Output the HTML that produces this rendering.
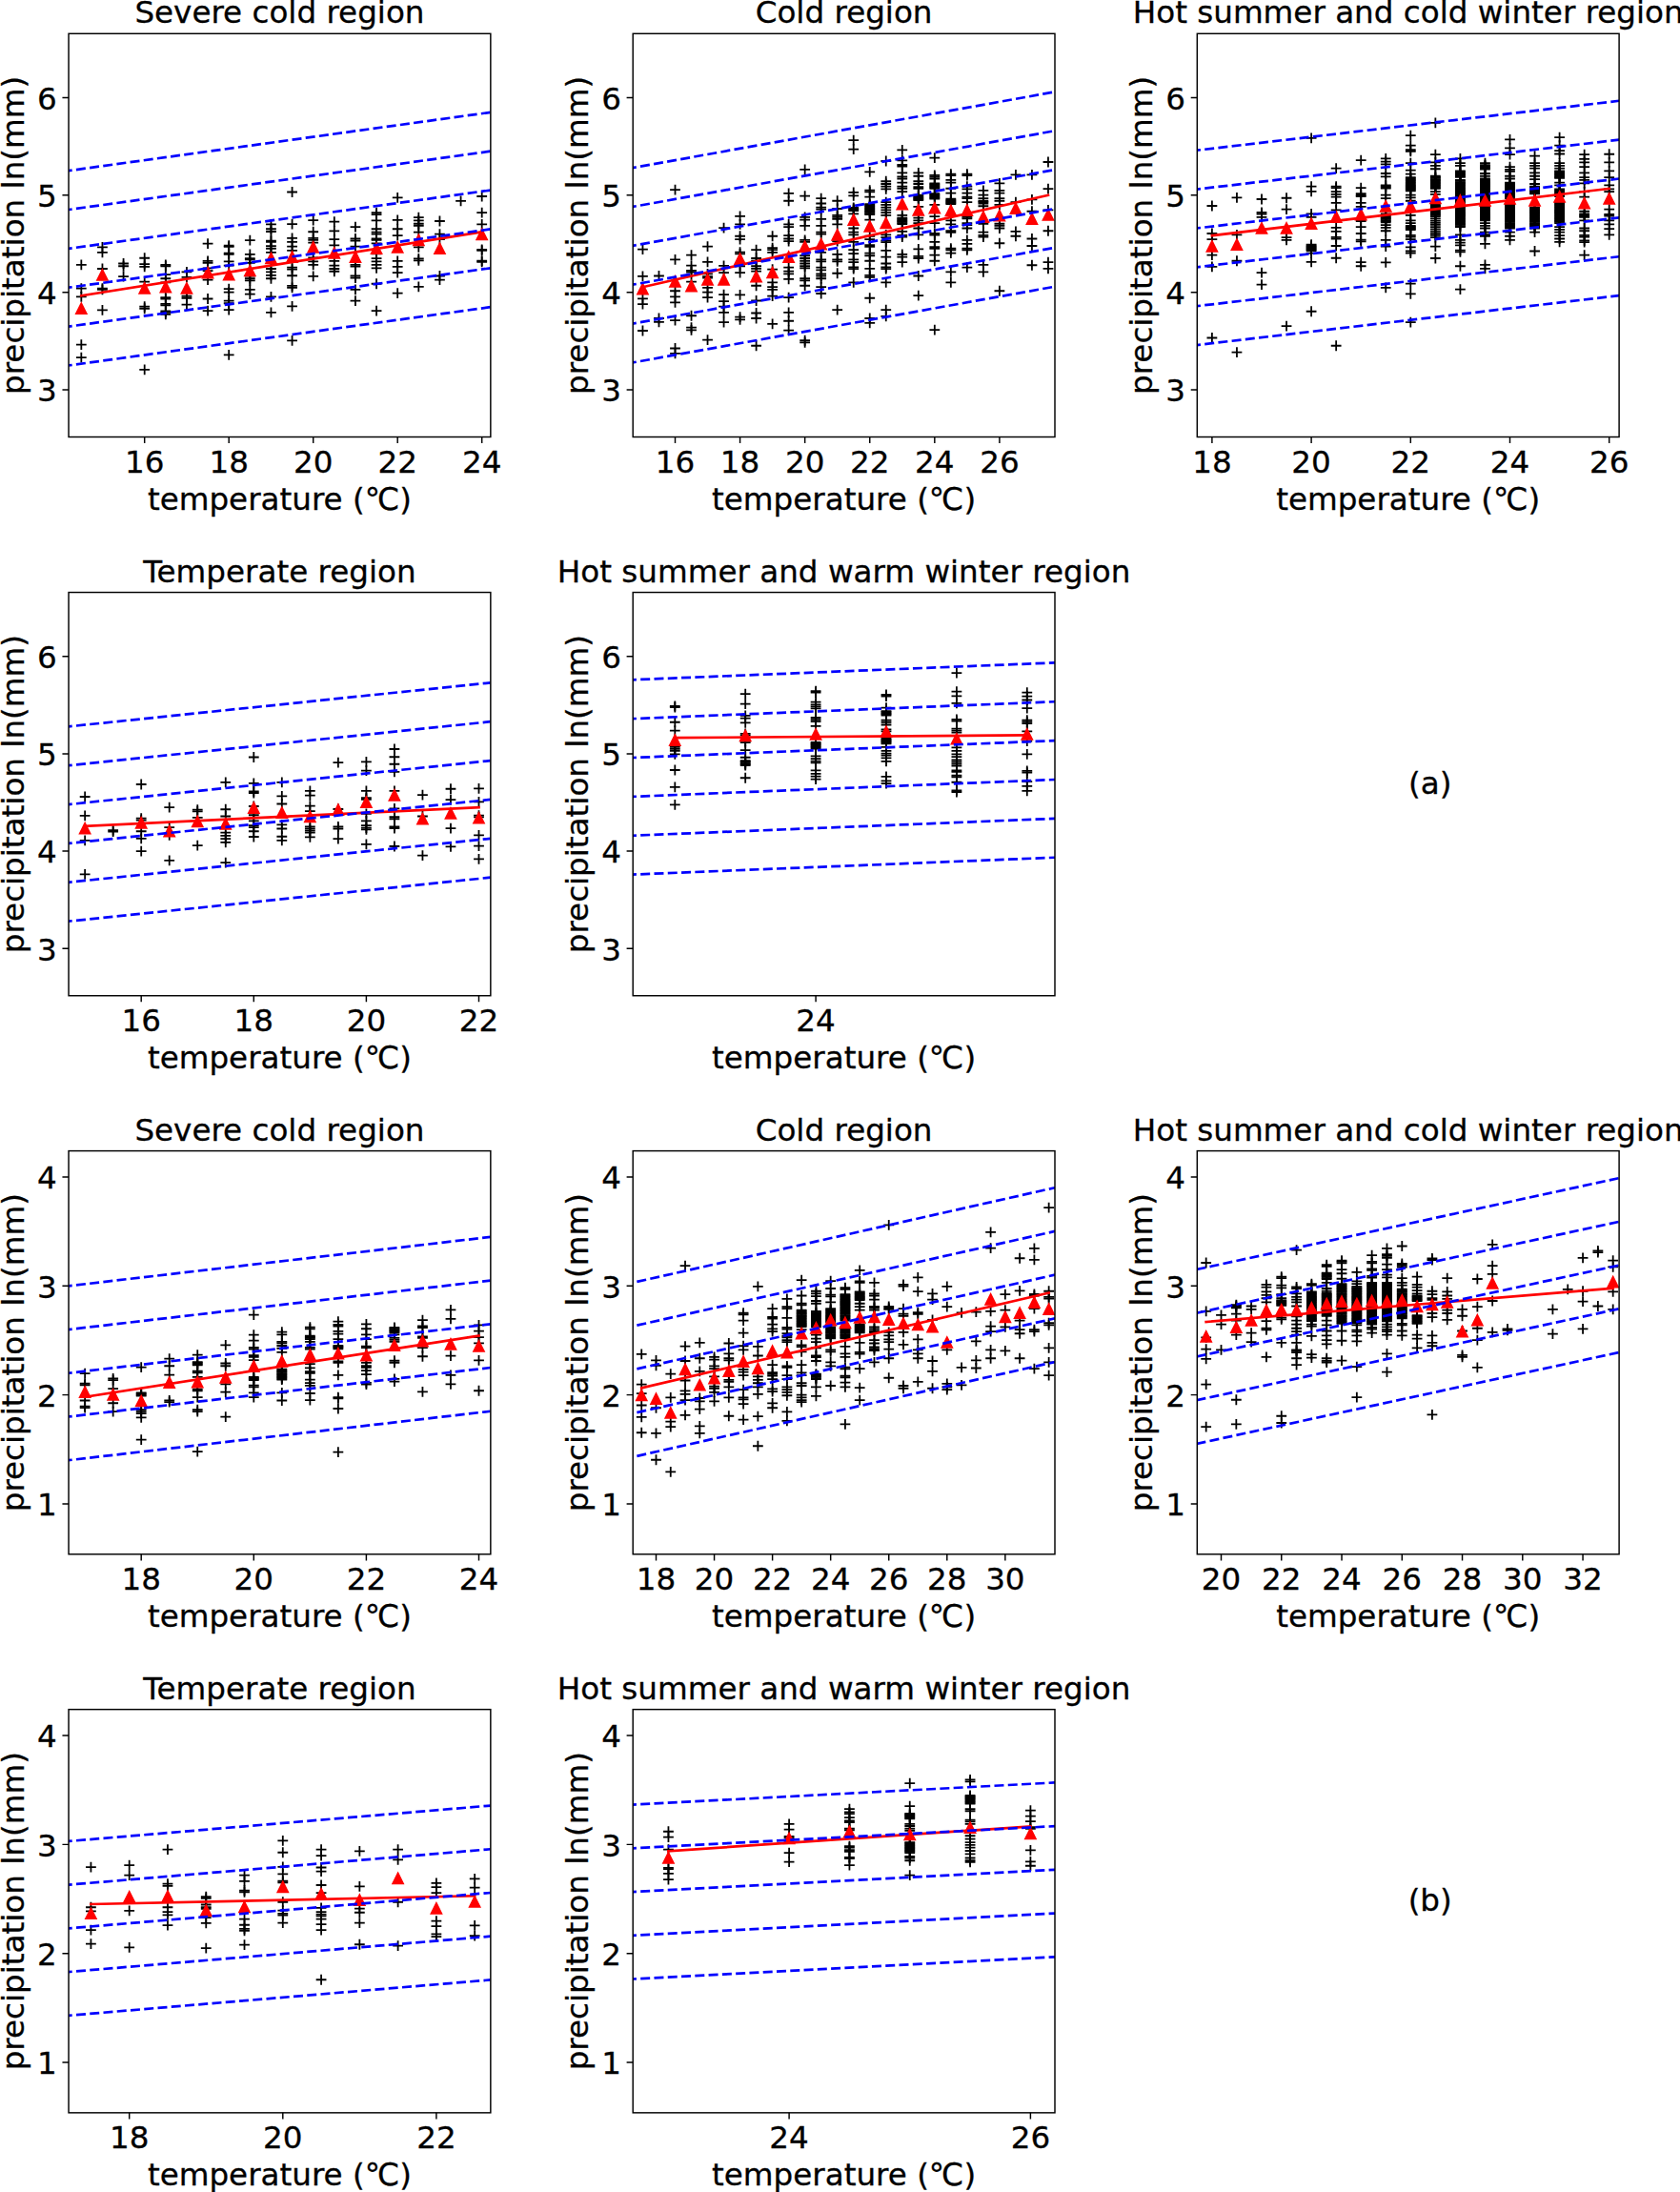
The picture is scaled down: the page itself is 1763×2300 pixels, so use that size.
<!DOCTYPE html>
<html lang="en"><head><meta charset="utf-8"><title>precipitation vs temperature</title>
<style>html,body{margin:0;padding:0;background:#fff}svg{display:block}text{font-family:"DejaVu Sans", "Liberation Sans", sans-serif;font-size:32.6px;fill:#000;stroke:#000;stroke-width:.3px}</style></head><body>
<svg width="1763" height="2300" viewBox="0 0 1763 2300">
<defs>
<path id="p" d="M-5.4 0H5.4M0 -5.4V5.4" stroke="#000" stroke-width="1.8" fill="none"/>
<path id="t" d="M0 -5.4L5.4 5.4H-5.4Z" fill="#f00" stroke="#f00" stroke-width="1.8" stroke-linejoin="miter"/>
<clipPath id="c0"><rect x="72.05" y="35.3" width="442.8" height="423.2"/></clipPath>
<clipPath id="c1"><rect x="664.2" y="35.3" width="442.8" height="423.2"/></clipPath>
<clipPath id="c2"><rect x="1256.3" y="35.3" width="442.8" height="423.2"/></clipPath>
<clipPath id="c3"><rect x="72.05" y="621.55" width="442.8" height="423.2"/></clipPath>
<clipPath id="c4"><rect x="664.2" y="621.55" width="442.8" height="423.2"/></clipPath>
<clipPath id="c5"><rect x="1256.3" y="621.55" width="442.8" height="423.2"/></clipPath>
<clipPath id="c6"><rect x="72.05" y="1207.6" width="442.8" height="423.2"/></clipPath>
<clipPath id="c7"><rect x="664.2" y="1207.6" width="442.8" height="423.2"/></clipPath>
<clipPath id="c8"><rect x="1256.3" y="1207.6" width="442.8" height="423.2"/></clipPath>
<clipPath id="c9"><rect x="72.05" y="1793.65" width="442.8" height="423.2"/></clipPath>
<clipPath id="c10"><rect x="664.2" y="1793.65" width="442.8" height="423.2"/></clipPath>
<clipPath id="c11"><rect x="1256.3" y="1793.65" width="442.8" height="423.2"/></clipPath>
</defs>
<rect width="1763" height="2300" fill="#fff"/>
<g>
<g clip-path="url(#c0)">
<use href="#p" x="85.32" y="277.89"/><use href="#p" x="85.32" y="302.53"/><use href="#p" x="85.32" y="311.43"/><use href="#p" x="85.32" y="361.67"/><use href="#p" x="85.32" y="375.09"/><use href="#p" x="107.45" y="259.4"/><use href="#p" x="107.45" y="264.88"/><use href="#p" x="107.45" y="281.99"/><use href="#p" x="107.45" y="302.53"/><use href="#p" x="107.45" y="303.9"/><use href="#p" x="107.45" y="325.39"/><use href="#p" x="129.57" y="276.52"/><use href="#p" x="129.57" y="279.26"/><use href="#p" x="129.57" y="290.21"/><use href="#p" x="151.7" y="270.77"/><use href="#p" x="151.7" y="277.2"/><use href="#p" x="151.7" y="279.94"/><use href="#p" x="151.7" y="295.68"/><use href="#p" x="151.7" y="321.7"/><use href="#p" x="151.7" y="323.75"/><use href="#p" x="151.7" y="387.82"/><use href="#p" x="173.82" y="277.89"/><use href="#p" x="173.82" y="279.26"/><use href="#p" x="173.82" y="288.15"/><use href="#p" x="173.82" y="292.26"/><use href="#p" x="173.82" y="296.37"/><use href="#p" x="173.82" y="312.11"/><use href="#p" x="173.82" y="313.48"/><use href="#p" x="173.82" y="318.96"/><use href="#p" x="173.82" y="320.33"/><use href="#p" x="173.82" y="326.49"/><use href="#p" x="173.82" y="327.86"/><use href="#p" x="173.82" y="329.91"/><use href="#p" x="195.95" y="285.42"/><use href="#p" x="195.95" y="290.89"/><use href="#p" x="195.95" y="310.74"/><use href="#p" x="195.95" y="312.8"/><use href="#p" x="195.95" y="319.64"/><use href="#p" x="218.07" y="255.71"/><use href="#p" x="218.07" y="273.78"/><use href="#p" x="218.07" y="275.83"/><use href="#p" x="218.07" y="281.31"/><use href="#p" x="218.07" y="284.05"/><use href="#p" x="218.07" y="293.63"/><use href="#p" x="218.07" y="313.48"/><use href="#p" x="218.07" y="326.21"/><use href="#p" x="240.2" y="257.76"/><use href="#p" x="240.2" y="258.86"/><use href="#p" x="240.2" y="265.57"/><use href="#p" x="240.2" y="266.93"/><use href="#p" x="240.2" y="274.46"/><use href="#p" x="240.2" y="278.57"/><use href="#p" x="240.2" y="303.21"/><use href="#p" x="240.2" y="306.64"/><use href="#p" x="240.2" y="315.54"/><use href="#p" x="240.2" y="318.27"/><use href="#p" x="240.2" y="325.12"/><use href="#p" x="240.2" y="372.35"/><use href="#p" x="262.32" y="252.15"/><use href="#p" x="262.32" y="266.93"/><use href="#p" x="262.32" y="271.04"/><use href="#p" x="262.32" y="272.41"/><use href="#p" x="262.32" y="275.83"/><use href="#p" x="262.32" y="289.52"/><use href="#p" x="262.32" y="292.26"/><use href="#p" x="262.32" y="294.32"/><use href="#p" x="262.32" y="303.9"/><use href="#p" x="262.32" y="308.69"/><use href="#p" x="284.45" y="235.45"/><use href="#p" x="284.45" y="240.24"/><use href="#p" x="284.45" y="242.98"/><use href="#p" x="284.45" y="252.56"/><use href="#p" x="284.45" y="253.93"/><use href="#p" x="284.45" y="258.04"/><use href="#p" x="284.45" y="260.77"/><use href="#p" x="284.45" y="264.88"/><use href="#p" x="284.45" y="281.99"/><use href="#p" x="284.45" y="285.42"/><use href="#p" x="284.45" y="288.84"/><use href="#p" x="284.45" y="292.26"/><use href="#p" x="284.45" y="311.43"/><use href="#p" x="284.45" y="327.86"/><use href="#p" x="306.57" y="201.49"/><use href="#p" x="306.57" y="235.04"/><use href="#p" x="306.57" y="249.82"/><use href="#p" x="306.57" y="253.93"/><use href="#p" x="306.57" y="258.72"/><use href="#p" x="306.57" y="262.83"/><use href="#p" x="306.57" y="280.62"/><use href="#p" x="306.57" y="282.68"/><use href="#p" x="306.57" y="289.25"/><use href="#p" x="306.57" y="299.79"/><use href="#p" x="306.57" y="301.85"/><use href="#p" x="306.57" y="321.29"/><use href="#p" x="306.57" y="357.29"/><use href="#p" x="328.7" y="231.07"/><use href="#p" x="328.7" y="243.25"/><use href="#p" x="328.7" y="249.82"/><use href="#p" x="328.7" y="251.88"/><use href="#p" x="328.7" y="254.61"/><use href="#p" x="328.7" y="270.36"/><use href="#p" x="328.7" y="274.46"/><use href="#p" x="328.7" y="277.89"/><use href="#p" x="328.7" y="289.8"/><use href="#p" x="350.82" y="232.71"/><use href="#p" x="350.82" y="242.29"/><use href="#p" x="350.82" y="251.19"/><use href="#p" x="350.82" y="257.35"/><use href="#p" x="350.82" y="273.78"/><use href="#p" x="350.82" y="278.57"/><use href="#p" x="350.82" y="281.99"/><use href="#p" x="350.82" y="284.73"/><use href="#p" x="372.95" y="238.18"/><use href="#p" x="372.95" y="250.51"/><use href="#p" x="372.95" y="252.56"/><use href="#p" x="372.95" y="258.72"/><use href="#p" x="372.95" y="277.89"/><use href="#p" x="372.95" y="279.67"/><use href="#p" x="372.95" y="289.52"/><use href="#p" x="372.95" y="291.58"/><use href="#p" x="372.95" y="303.9"/><use href="#p" x="372.95" y="315.54"/><use href="#p" x="395.07" y="223.12"/><use href="#p" x="395.07" y="225.18"/><use href="#p" x="395.07" y="231.34"/><use href="#p" x="395.07" y="240.24"/><use href="#p" x="395.07" y="243.66"/><use href="#p" x="395.07" y="245.71"/><use href="#p" x="395.07" y="250.51"/><use href="#p" x="395.07" y="251.88"/><use href="#p" x="395.07" y="255.3"/><use href="#p" x="395.07" y="266.25"/><use href="#p" x="395.07" y="271.04"/><use href="#p" x="395.07" y="274.46"/><use href="#p" x="395.07" y="277.89"/><use href="#p" x="395.07" y="281.31"/><use href="#p" x="395.07" y="297.74"/><use href="#p" x="395.07" y="326.21"/><use href="#p" x="417.2" y="207.38"/><use href="#p" x="417.2" y="230.93"/><use href="#p" x="417.2" y="240.24"/><use href="#p" x="417.2" y="247.08"/><use href="#p" x="417.2" y="273.78"/><use href="#p" x="417.2" y="279.94"/><use href="#p" x="417.2" y="286.1"/><use href="#p" x="417.2" y="307.6"/><use href="#p" x="439.32" y="228.19"/><use href="#p" x="439.32" y="231.34"/><use href="#p" x="439.32" y="234.76"/><use href="#p" x="439.32" y="236.82"/><use href="#p" x="439.32" y="243.66"/><use href="#p" x="439.32" y="259.4"/><use href="#p" x="439.32" y="271.45"/><use href="#p" x="439.32" y="273.37"/><use href="#p" x="439.32" y="300.89"/><use href="#p" x="461.45" y="232.02"/><use href="#p" x="461.45" y="245.71"/><use href="#p" x="461.45" y="251.19"/><use href="#p" x="461.45" y="289.52"/><use href="#p" x="461.45" y="293.63"/><use href="#p" x="483.57" y="210.8"/><use href="#p" x="505.7" y="206.01"/><use href="#p" x="505.7" y="223.12"/><use href="#p" x="505.7" y="235.45"/><use href="#p" x="505.7" y="261.87"/><use href="#p" x="505.7" y="262.96"/><use href="#p" x="505.7" y="273.64"/><use href="#p" x="505.7" y="274.74"/>
<use href="#t" x="85.32" y="323.75"/><use href="#t" x="107.45" y="288.43"/><use href="#t" x="151.7" y="302.53"/><use href="#t" x="173.82" y="301.16"/><use href="#t" x="195.95" y="302.53"/><use href="#t" x="218.07" y="286.1"/><use href="#t" x="240.2" y="288.15"/><use href="#t" x="262.32" y="284.05"/><use href="#t" x="284.45" y="271.04"/><use href="#t" x="306.57" y="269.67"/><use href="#t" x="328.7" y="259.4"/><use href="#t" x="350.82" y="265.57"/><use href="#t" x="372.95" y="269.67"/><use href="#t" x="395.07" y="260.77"/><use href="#t" x="417.2" y="259.4"/><use href="#t" x="439.32" y="251.88"/><use href="#t" x="461.45" y="260.77"/><use href="#t" x="505.7" y="245.99"/>
<path d="M85.32 310.21L505.7 243.39" stroke="#f00" stroke-width="2.7" fill="none" stroke-linecap="square"/>
<path d="M65.75 180L514.85 117.83M65.75 220.87L514.85 158.69M65.75 261.74L514.85 199.56M65.75 302.6L514.85 240.43M65.75 343.47L514.85 281.3M65.75 384.34L514.85 322.17" stroke="#00f" stroke-width="2.7" fill="none" stroke-dasharray="10 4.3"/>
</g>
<rect x="72.05" y="35.3" width="442.8" height="423.2" fill="none" stroke="#000" stroke-width="1.45"/>
<path d="M151.7 458.5v6.6M240.2 458.5v6.6M328.7 458.5v6.6M417.2 458.5v6.6M505.7 458.5v6.6M72.05 409.01h-6.6M72.05 306.84h-6.6M72.05 204.67h-6.6M72.05 102.5h-6.6" stroke="#000" stroke-width="1.45" fill="none"/>
<text x="151.7" y="495.6" text-anchor="middle">16</text>
<text x="240.2" y="495.6" text-anchor="middle">18</text>
<text x="328.7" y="495.6" text-anchor="middle">20</text>
<text x="417.2" y="495.6" text-anchor="middle">22</text>
<text x="505.7" y="495.6" text-anchor="middle">24</text>
<text x="59.75" y="421.41" text-anchor="end">3</text>
<text x="59.75" y="319.24" text-anchor="end">4</text>
<text x="59.75" y="217.07" text-anchor="end">5</text>
<text x="59.75" y="114.9" text-anchor="end">6</text>
<text x="293.45" y="24.3" text-anchor="middle">Severe cold region</text>
<text x="293.45" y="534.5" text-anchor="middle">temperature (℃)</text>
<text transform="translate(24.55 246.9) rotate(-90)" text-anchor="middle">precipitation ln(mm)</text>
</g>
<g>
<g clip-path="url(#c1)">
<use href="#p" x="674.46" y="261.7"/><use href="#p" x="674.46" y="289.9"/><use href="#p" x="674.46" y="313.45"/><use href="#p" x="674.46" y="319.2"/><use href="#p" x="674.46" y="346.99"/><use href="#p" x="691.48" y="289.49"/><use href="#p" x="691.48" y="333.99"/><use href="#p" x="691.48" y="337.82"/><use href="#p" x="708.5" y="199.14"/><use href="#p" x="708.5" y="272.38"/><use href="#p" x="708.5" y="305.24"/><use href="#p" x="708.5" y="311.4"/><use href="#p" x="708.5" y="317.29"/><use href="#p" x="708.5" y="336.04"/><use href="#p" x="708.5" y="365.48"/><use href="#p" x="708.5" y="370.95"/><use href="#p" x="725.52" y="267.59"/><use href="#p" x="725.52" y="278.54"/><use href="#p" x="725.52" y="283.88"/><use href="#p" x="725.52" y="285.52"/><use href="#p" x="725.52" y="295.65"/><use href="#p" x="725.52" y="331.25"/><use href="#p" x="725.52" y="343.57"/><use href="#p" x="725.52" y="346.31"/><use href="#p" x="742.54" y="258.69"/><use href="#p" x="742.54" y="274.85"/><use href="#p" x="742.54" y="287.44"/><use href="#p" x="742.54" y="290.04"/><use href="#p" x="742.54" y="291.68"/><use href="#p" x="742.54" y="301.82"/><use href="#p" x="742.54" y="306.61"/><use href="#p" x="742.54" y="312.08"/><use href="#p" x="742.54" y="356.58"/><use href="#p" x="759.56" y="239.11"/><use href="#p" x="759.56" y="278.95"/><use href="#p" x="759.56" y="286.07"/><use href="#p" x="759.56" y="309.07"/><use href="#p" x="759.56" y="316.19"/><use href="#p" x="759.56" y="321.67"/><use href="#p" x="759.56" y="327.83"/><use href="#p" x="759.56" y="338.1"/><use href="#p" x="776.58" y="226.93"/><use href="#p" x="776.58" y="235.42"/><use href="#p" x="776.58" y="247.74"/><use href="#p" x="776.58" y="251.16"/><use href="#p" x="776.58" y="264.71"/><use href="#p" x="776.58" y="266.36"/><use href="#p" x="776.58" y="279.23"/><use href="#p" x="776.58" y="286.07"/><use href="#p" x="776.58" y="309.35"/><use href="#p" x="776.58" y="332.62"/><use href="#p" x="776.58" y="335.36"/><use href="#p" x="793.6" y="262.11"/><use href="#p" x="793.6" y="271.01"/><use href="#p" x="793.6" y="273.75"/><use href="#p" x="793.6" y="279.23"/><use href="#p" x="793.6" y="281.96"/><use href="#p" x="793.6" y="284.7"/><use href="#p" x="793.6" y="299.76"/><use href="#p" x="793.6" y="315.51"/><use href="#p" x="793.6" y="328.51"/><use href="#p" x="793.6" y="333.99"/><use href="#p" x="793.6" y="362.74"/><use href="#p" x="810.62" y="247.74"/><use href="#p" x="810.62" y="260.06"/><use href="#p" x="810.62" y="262.11"/><use href="#p" x="810.62" y="264.85"/><use href="#p" x="810.62" y="282.65"/><use href="#p" x="810.62" y="296.34"/><use href="#p" x="810.62" y="301.13"/><use href="#p" x="810.62" y="303.87"/><use href="#p" x="810.62" y="310.71"/><use href="#p" x="810.62" y="339.88"/><use href="#p" x="827.64" y="202.83"/><use href="#p" x="827.64" y="210.77"/><use href="#p" x="827.64" y="235.42"/><use href="#p" x="827.64" y="238.15"/><use href="#p" x="827.64" y="247.05"/><use href="#p" x="827.64" y="250.48"/><use href="#p" x="827.64" y="253.21"/><use href="#p" x="827.64" y="280.6"/><use href="#p" x="827.64" y="284.7"/><use href="#p" x="827.64" y="287.44"/><use href="#p" x="827.64" y="292.92"/><use href="#p" x="827.64" y="312.08"/><use href="#p" x="827.64" y="327.83"/><use href="#p" x="827.64" y="336.73"/><use href="#p" x="827.64" y="346.72"/><use href="#p" x="844.66" y="177.92"/><use href="#p" x="844.66" y="205.57"/><use href="#p" x="844.66" y="227.89"/><use href="#p" x="844.66" y="230.62"/><use href="#p" x="844.66" y="236.79"/><use href="#p" x="844.66" y="251.85"/><use href="#p" x="844.66" y="253.9"/><use href="#p" x="844.66" y="268.27"/><use href="#p" x="844.66" y="271.01"/><use href="#p" x="844.66" y="273.75"/><use href="#p" x="844.66" y="276.49"/><use href="#p" x="844.66" y="279.23"/><use href="#p" x="844.66" y="281.28"/><use href="#p" x="844.66" y="292.23"/><use href="#p" x="844.66" y="294.29"/><use href="#p" x="844.66" y="299.76"/><use href="#p" x="844.66" y="357.26"/><use href="#p" x="844.66" y="359.32"/><use href="#p" x="861.68" y="208.04"/><use href="#p" x="861.68" y="213.51"/><use href="#p" x="861.68" y="217.62"/><use href="#p" x="861.68" y="219.67"/><use href="#p" x="861.68" y="229.94"/><use href="#p" x="861.68" y="236.79"/><use href="#p" x="861.68" y="243.63"/><use href="#p" x="861.68" y="245.68"/><use href="#p" x="861.68" y="264.85"/><use href="#p" x="861.68" y="272.38"/><use href="#p" x="861.68" y="274.43"/><use href="#p" x="861.68" y="280.6"/><use href="#p" x="861.68" y="283.33"/><use href="#p" x="861.68" y="287.44"/><use href="#p" x="861.68" y="289.49"/><use href="#p" x="861.68" y="292.23"/><use href="#p" x="861.68" y="301.13"/><use href="#p" x="861.68" y="307.98"/><use href="#p" x="878.7" y="210.77"/><use href="#p" x="878.7" y="218.99"/><use href="#p" x="878.7" y="225.83"/><use href="#p" x="878.7" y="227.89"/><use href="#p" x="878.7" y="229.94"/><use href="#p" x="878.7" y="235.42"/><use href="#p" x="878.7" y="253.21"/><use href="#p" x="878.7" y="266.9"/><use href="#p" x="878.7" y="272.38"/><use href="#p" x="878.7" y="274.43"/><use href="#p" x="878.7" y="286.76"/><use href="#p" x="878.7" y="325.09"/><use href="#p" x="895.72" y="147.11"/><use href="#p" x="895.72" y="156.7"/><use href="#p" x="895.72" y="201.88"/><use href="#p" x="895.72" y="205.3"/><use href="#p" x="895.72" y="217.89"/><use href="#p" x="895.72" y="218.99"/><use href="#p" x="895.72" y="220.08"/><use href="#p" x="895.72" y="221.18"/><use href="#p" x="895.72" y="224.46"/><use href="#p" x="895.72" y="239.52"/><use href="#p" x="895.72" y="243.63"/><use href="#p" x="895.72" y="246.37"/><use href="#p" x="895.72" y="253.9"/><use href="#p" x="895.72" y="262.11"/><use href="#p" x="895.72" y="266.22"/><use href="#p" x="895.72" y="272.38"/><use href="#p" x="895.72" y="275.12"/><use href="#p" x="895.72" y="280.46"/><use href="#p" x="895.72" y="282.1"/><use href="#p" x="895.72" y="296.34"/><use href="#p" x="912.74" y="180.38"/><use href="#p" x="912.74" y="199.68"/><use href="#p" x="912.74" y="201.33"/><use href="#p" x="912.74" y="206.67"/><use href="#p" x="912.74" y="214.2"/><use href="#p" x="912.74" y="215.29"/><use href="#p" x="912.74" y="216.39"/><use href="#p" x="912.74" y="217.48"/><use href="#p" x="912.74" y="218.58"/><use href="#p" x="912.74" y="219.67"/><use href="#p" x="912.74" y="220.77"/><use href="#p" x="912.74" y="221.86"/><use href="#p" x="912.74" y="222.96"/><use href="#p" x="912.74" y="224.05"/><use href="#p" x="912.74" y="225.15"/><use href="#p" x="912.74" y="230.62"/><use href="#p" x="912.74" y="247.74"/><use href="#p" x="912.74" y="251.16"/><use href="#p" x="912.74" y="257.18"/><use href="#p" x="912.74" y="258.83"/><use href="#p" x="912.74" y="265.54"/><use href="#p" x="912.74" y="268.27"/><use href="#p" x="912.74" y="273.75"/><use href="#p" x="912.74" y="281.96"/><use href="#p" x="912.74" y="288.81"/><use href="#p" x="912.74" y="290.86"/><use href="#p" x="912.74" y="312.77"/><use href="#p" x="912.74" y="333.99"/><use href="#p" x="912.74" y="338.78"/><use href="#p" x="929.76" y="169.02"/><use href="#p" x="929.76" y="190.24"/><use href="#p" x="929.76" y="192.98"/><use href="#p" x="929.76" y="195.71"/><use href="#p" x="929.76" y="198.45"/><use href="#p" x="929.76" y="212.14"/><use href="#p" x="929.76" y="214.88"/><use href="#p" x="929.76" y="217.62"/><use href="#p" x="929.76" y="220.36"/><use href="#p" x="929.76" y="223.1"/><use href="#p" x="929.76" y="225.83"/><use href="#p" x="929.76" y="246.37"/><use href="#p" x="929.76" y="249.11"/><use href="#p" x="929.76" y="252.39"/><use href="#p" x="929.76" y="254.04"/><use href="#p" x="929.76" y="262.8"/><use href="#p" x="929.76" y="269.64"/><use href="#p" x="929.76" y="276.49"/><use href="#p" x="929.76" y="280.46"/><use href="#p" x="929.76" y="282.1"/><use href="#p" x="929.76" y="296.34"/><use href="#p" x="929.76" y="325.09"/><use href="#p" x="929.76" y="331.93"/><use href="#p" x="946.78" y="157.38"/><use href="#p" x="946.78" y="168.33"/><use href="#p" x="946.78" y="172.99"/><use href="#p" x="946.78" y="174.63"/><use href="#p" x="946.78" y="181.34"/><use href="#p" x="946.78" y="185.45"/><use href="#p" x="946.78" y="187.5"/><use href="#p" x="946.78" y="191.61"/><use href="#p" x="946.78" y="195.71"/><use href="#p" x="946.78" y="197.77"/><use href="#p" x="946.78" y="201.19"/><use href="#p" x="946.78" y="225.83"/><use href="#p" x="946.78" y="228.57"/><use href="#p" x="946.78" y="229.67"/><use href="#p" x="946.78" y="230.76"/><use href="#p" x="946.78" y="231.86"/><use href="#p" x="946.78" y="232.95"/><use href="#p" x="946.78" y="234.05"/><use href="#p" x="946.78" y="235.14"/><use href="#p" x="946.78" y="242.95"/><use href="#p" x="946.78" y="246.92"/><use href="#p" x="946.78" y="248.56"/><use href="#p" x="946.78" y="266.9"/><use href="#p" x="946.78" y="269.64"/><use href="#p" x="946.78" y="275.12"/><use href="#p" x="963.8" y="181.34"/><use href="#p" x="963.8" y="184.76"/><use href="#p" x="963.8" y="190.24"/><use href="#p" x="963.8" y="192.98"/><use href="#p" x="963.8" y="196.26"/><use href="#p" x="963.8" y="197.9"/><use href="#p" x="963.8" y="204.61"/><use href="#p" x="963.8" y="205.71"/><use href="#p" x="963.8" y="206.8"/><use href="#p" x="963.8" y="207.9"/><use href="#p" x="963.8" y="208.99"/><use href="#p" x="963.8" y="210.09"/><use href="#p" x="963.8" y="216.93"/><use href="#p" x="963.8" y="228.57"/><use href="#p" x="963.8" y="231.31"/><use href="#p" x="963.8" y="234.05"/><use href="#p" x="963.8" y="239.52"/><use href="#p" x="963.8" y="246.37"/><use href="#p" x="963.8" y="261.43"/><use href="#p" x="963.8" y="268.96"/><use href="#p" x="963.8" y="271.01"/><use href="#p" x="963.8" y="289.49"/><use href="#p" x="963.8" y="310.03"/><use href="#p" x="980.82" y="165.6"/><use href="#p" x="980.82" y="183.94"/><use href="#p" x="980.82" y="185.58"/><use href="#p" x="980.82" y="187.5"/><use href="#p" x="980.82" y="192.29"/><use href="#p" x="980.82" y="193.39"/><use href="#p" x="980.82" y="194.48"/><use href="#p" x="980.82" y="195.58"/><use href="#p" x="980.82" y="196.67"/><use href="#p" x="980.82" y="197.77"/><use href="#p" x="980.82" y="203.24"/><use href="#p" x="980.82" y="204.34"/><use href="#p" x="980.82" y="205.43"/><use href="#p" x="980.82" y="206.53"/><use href="#p" x="980.82" y="207.62"/><use href="#p" x="980.82" y="208.72"/><use href="#p" x="980.82" y="214.88"/><use href="#p" x="980.82" y="227.2"/><use href="#p" x="980.82" y="234.05"/><use href="#p" x="980.82" y="244.86"/><use href="#p" x="980.82" y="246.51"/><use href="#p" x="980.82" y="253.9"/><use href="#p" x="980.82" y="259.24"/><use href="#p" x="980.82" y="260.88"/><use href="#p" x="980.82" y="267.59"/><use href="#p" x="980.82" y="273.75"/><use href="#p" x="980.82" y="346.04"/><use href="#p" x="997.84" y="182.57"/><use href="#p" x="997.84" y="184.21"/><use href="#p" x="997.84" y="188.87"/><use href="#p" x="997.84" y="191.61"/><use href="#p" x="997.84" y="197.77"/><use href="#p" x="997.84" y="202.56"/><use href="#p" x="997.84" y="208.72"/><use href="#p" x="997.84" y="209.82"/><use href="#p" x="997.84" y="210.91"/><use href="#p" x="997.84" y="212.01"/><use href="#p" x="997.84" y="213.1"/><use href="#p" x="997.84" y="214.2"/><use href="#p" x="997.84" y="231.31"/><use href="#p" x="997.84" y="235.42"/><use href="#p" x="997.84" y="242.12"/><use href="#p" x="997.84" y="243.77"/><use href="#p" x="997.84" y="260.61"/><use href="#p" x="997.84" y="262.25"/><use href="#p" x="997.84" y="265.54"/><use href="#p" x="997.84" y="285.39"/><use href="#p" x="997.84" y="296.34"/><use href="#p" x="1014.86" y="182.57"/><use href="#p" x="1014.86" y="184.21"/><use href="#p" x="1014.86" y="195.71"/><use href="#p" x="1014.86" y="198.45"/><use href="#p" x="1014.86" y="202.56"/><use href="#p" x="1014.86" y="206.53"/><use href="#p" x="1014.86" y="208.17"/><use href="#p" x="1014.86" y="212.14"/><use href="#p" x="1014.86" y="227.75"/><use href="#p" x="1014.86" y="229.39"/><use href="#p" x="1014.86" y="234.05"/><use href="#p" x="1014.86" y="236.1"/><use href="#p" x="1014.86" y="239.52"/><use href="#p" x="1014.86" y="251.85"/><use href="#p" x="1014.86" y="255.95"/><use href="#p" x="1014.86" y="260.61"/><use href="#p" x="1014.86" y="262.25"/><use href="#p" x="1014.86" y="280.6"/><use href="#p" x="1031.88" y="199.82"/><use href="#p" x="1031.88" y="204.61"/><use href="#p" x="1031.88" y="208.04"/><use href="#p" x="1031.88" y="210.77"/><use href="#p" x="1031.88" y="212.01"/><use href="#p" x="1031.88" y="213.65"/><use href="#p" x="1031.88" y="216.25"/><use href="#p" x="1031.88" y="234.73"/><use href="#p" x="1031.88" y="243.63"/><use href="#p" x="1031.88" y="246.92"/><use href="#p" x="1031.88" y="248.56"/><use href="#p" x="1031.88" y="277.86"/><use href="#p" x="1031.88" y="285.39"/><use href="#p" x="1048.9" y="192.29"/><use href="#p" x="1048.9" y="199.82"/><use href="#p" x="1048.9" y="202.56"/><use href="#p" x="1048.9" y="208.04"/><use href="#p" x="1048.9" y="210.77"/><use href="#p" x="1048.9" y="214.88"/><use href="#p" x="1048.9" y="234.73"/><use href="#p" x="1048.9" y="236.79"/><use href="#p" x="1048.9" y="239.52"/><use href="#p" x="1048.9" y="255.27"/><use href="#p" x="1048.9" y="305.24"/><use href="#p" x="1065.92" y="183.39"/><use href="#p" x="1065.92" y="212.14"/><use href="#p" x="1065.92" y="242.95"/><use href="#p" x="1065.92" y="247.74"/><use href="#p" x="1082.94" y="183.39"/><use href="#p" x="1082.94" y="209.4"/><use href="#p" x="1082.94" y="221.73"/><use href="#p" x="1082.94" y="250.48"/><use href="#p" x="1082.94" y="258.01"/><use href="#p" x="1082.94" y="278.27"/><use href="#p" x="1099.96" y="169.98"/><use href="#p" x="1099.96" y="198.04"/><use href="#p" x="1099.96" y="220.36"/><use href="#p" x="1099.96" y="242.26"/><use href="#p" x="1099.96" y="275.12"/><use href="#p" x="1099.96" y="281.96"/>
<use href="#t" x="674.46" y="303.18"/><use href="#t" x="708.5" y="295.38"/><use href="#t" x="725.52" y="300.17"/><use href="#t" x="742.54" y="293.33"/><use href="#t" x="759.56" y="293.33"/><use href="#t" x="776.58" y="271.7"/><use href="#t" x="793.6" y="290.18"/><use href="#t" x="810.62" y="286.07"/><use href="#t" x="827.64" y="269.64"/><use href="#t" x="844.66" y="258.69"/><use href="#t" x="861.68" y="256.23"/><use href="#t" x="878.7" y="246.37"/><use href="#t" x="895.72" y="230.62"/><use href="#t" x="912.74" y="237.47"/><use href="#t" x="929.76" y="234.05"/><use href="#t" x="946.78" y="214.2"/><use href="#t" x="963.8" y="220.36"/><use href="#t" x="980.82" y="218.3"/><use href="#t" x="997.84" y="221.04"/><use href="#t" x="1014.86" y="220.77"/><use href="#t" x="1031.88" y="227.61"/><use href="#t" x="1048.9" y="226.24"/><use href="#t" x="1065.92" y="218.71"/><use href="#t" x="1082.94" y="229.67"/><use href="#t" x="1099.96" y="225.56"/>
<path d="M674.46 301.22L1099.96 204.77" stroke="#f00" stroke-width="2.7" fill="none" stroke-linecap="square"/>
<path d="M657.9 177.2L1107 96.37M657.9 218.06L1107 137.24M657.9 258.93L1107 178.11M657.9 299.8L1107 218.97M657.9 340.67L1107 259.84M657.9 381.54L1107 300.71" stroke="#00f" stroke-width="2.7" fill="none" stroke-dasharray="10 4.3"/>
</g>
<rect x="664.2" y="35.3" width="442.8" height="423.2" fill="none" stroke="#000" stroke-width="1.45"/>
<path d="M708.5 458.5v6.6M776.58 458.5v6.6M844.66 458.5v6.6M912.74 458.5v6.6M980.82 458.5v6.6M1048.9 458.5v6.6M664.2 409.01h-6.6M664.2 306.84h-6.6M664.2 204.67h-6.6M664.2 102.5h-6.6" stroke="#000" stroke-width="1.45" fill="none"/>
<text x="708.5" y="495.6" text-anchor="middle">16</text>
<text x="776.58" y="495.6" text-anchor="middle">18</text>
<text x="844.66" y="495.6" text-anchor="middle">20</text>
<text x="912.74" y="495.6" text-anchor="middle">22</text>
<text x="980.82" y="495.6" text-anchor="middle">24</text>
<text x="1048.9" y="495.6" text-anchor="middle">26</text>
<text x="651.9" y="421.41" text-anchor="end">3</text>
<text x="651.9" y="319.24" text-anchor="end">4</text>
<text x="651.9" y="217.07" text-anchor="end">5</text>
<text x="651.9" y="114.9" text-anchor="end">6</text>
<text x="885.6" y="24.3" text-anchor="middle">Cold region</text>
<text x="885.6" y="534.5" text-anchor="middle">temperature (℃)</text>
<text transform="translate(616.7 246.9) rotate(-90)" text-anchor="middle">precipitation ln(mm)</text>
</g>
<g>
<g clip-path="url(#c2)">
<use href="#p" x="1271.9" y="215.98"/><use href="#p" x="1271.9" y="245"/><use href="#p" x="1271.9" y="251.16"/><use href="#p" x="1271.9" y="267.59"/><use href="#p" x="1271.9" y="279.91"/><use href="#p" x="1271.9" y="354.52"/><use href="#p" x="1297.95" y="207.35"/><use href="#p" x="1297.95" y="246.37"/><use href="#p" x="1297.95" y="273.75"/><use href="#p" x="1297.95" y="369.58"/><use href="#p" x="1324" y="208.99"/><use href="#p" x="1324" y="222.96"/><use href="#p" x="1324" y="224.6"/><use href="#p" x="1324" y="227.89"/><use href="#p" x="1324" y="286.07"/><use href="#p" x="1324" y="298.67"/><use href="#p" x="1350.05" y="207.76"/><use href="#p" x="1350.05" y="219.67"/><use href="#p" x="1350.05" y="249.11"/><use href="#p" x="1350.05" y="251.85"/><use href="#p" x="1350.05" y="342.2"/><use href="#p" x="1376.1" y="144.79"/><use href="#p" x="1376.1" y="195.71"/><use href="#p" x="1376.1" y="200.92"/><use href="#p" x="1376.1" y="224.46"/><use href="#p" x="1376.1" y="227.89"/><use href="#p" x="1376.1" y="256.64"/><use href="#p" x="1376.1" y="257.73"/><use href="#p" x="1376.1" y="258.83"/><use href="#p" x="1376.1" y="259.92"/><use href="#p" x="1376.1" y="261.02"/><use href="#p" x="1376.1" y="262.11"/><use href="#p" x="1376.1" y="263.21"/><use href="#p" x="1376.1" y="265.54"/><use href="#p" x="1376.1" y="274.85"/><use href="#p" x="1376.1" y="326.73"/><use href="#p" x="1402.15" y="176.55"/><use href="#p" x="1402.15" y="195.58"/><use href="#p" x="1402.15" y="197.22"/><use href="#p" x="1402.15" y="201.19"/><use href="#p" x="1402.15" y="203.93"/><use href="#p" x="1402.15" y="206.67"/><use href="#p" x="1402.15" y="212.83"/><use href="#p" x="1402.15" y="220.36"/><use href="#p" x="1402.15" y="238.84"/><use href="#p" x="1402.15" y="242.95"/><use href="#p" x="1402.15" y="248.97"/><use href="#p" x="1402.15" y="250.61"/><use href="#p" x="1402.15" y="258.01"/><use href="#p" x="1402.15" y="270.74"/><use href="#p" x="1402.15" y="362.74"/><use href="#p" x="1428.2" y="168.06"/><use href="#p" x="1428.2" y="197.08"/><use href="#p" x="1428.2" y="203.11"/><use href="#p" x="1428.2" y="204.75"/><use href="#p" x="1428.2" y="205.98"/><use href="#p" x="1428.2" y="212.83"/><use href="#p" x="1428.2" y="216.93"/><use href="#p" x="1428.2" y="231.99"/><use href="#p" x="1428.2" y="238.15"/><use href="#p" x="1428.2" y="245"/><use href="#p" x="1428.2" y="251.71"/><use href="#p" x="1428.2" y="253.35"/><use href="#p" x="1428.2" y="275.12"/><use href="#p" x="1428.2" y="279.23"/><use href="#p" x="1454.25" y="166.28"/><use href="#p" x="1454.25" y="169.7"/><use href="#p" x="1454.25" y="172.44"/><use href="#p" x="1454.25" y="182.02"/><use href="#p" x="1454.25" y="185.45"/><use href="#p" x="1454.25" y="194.35"/><use href="#p" x="1454.25" y="195.44"/><use href="#p" x="1454.25" y="196.54"/><use href="#p" x="1454.25" y="197.63"/><use href="#p" x="1454.25" y="204.61"/><use href="#p" x="1454.25" y="208.04"/><use href="#p" x="1454.25" y="224.46"/><use href="#p" x="1454.25" y="225.56"/><use href="#p" x="1454.25" y="226.65"/><use href="#p" x="1454.25" y="227.75"/><use href="#p" x="1454.25" y="228.85"/><use href="#p" x="1454.25" y="229.94"/><use href="#p" x="1454.25" y="231.04"/><use href="#p" x="1454.25" y="232.13"/><use href="#p" x="1454.25" y="233.23"/><use href="#p" x="1454.25" y="236.1"/><use href="#p" x="1454.25" y="238.84"/><use href="#p" x="1454.25" y="242.26"/><use href="#p" x="1454.25" y="251.85"/><use href="#p" x="1454.25" y="258.69"/><use href="#p" x="1454.25" y="275.39"/><use href="#p" x="1454.25" y="301.82"/><use href="#p" x="1480.3" y="142.05"/><use href="#p" x="1480.3" y="152.59"/><use href="#p" x="1480.3" y="157.24"/><use href="#p" x="1480.3" y="158.89"/><use href="#p" x="1480.3" y="171.07"/><use href="#p" x="1480.3" y="178.6"/><use href="#p" x="1480.3" y="182.71"/><use href="#p" x="1480.3" y="186.13"/><use href="#p" x="1480.3" y="187.23"/><use href="#p" x="1480.3" y="188.32"/><use href="#p" x="1480.3" y="189.42"/><use href="#p" x="1480.3" y="190.51"/><use href="#p" x="1480.3" y="191.61"/><use href="#p" x="1480.3" y="192.7"/><use href="#p" x="1480.3" y="193.8"/><use href="#p" x="1480.3" y="194.89"/><use href="#p" x="1480.3" y="195.99"/><use href="#p" x="1480.3" y="197.08"/><use href="#p" x="1480.3" y="198.18"/><use href="#p" x="1480.3" y="199.27"/><use href="#p" x="1480.3" y="200.37"/><use href="#p" x="1480.3" y="204.61"/><use href="#p" x="1480.3" y="207.35"/><use href="#p" x="1480.3" y="210.77"/><use href="#p" x="1480.3" y="225.83"/><use href="#p" x="1480.3" y="231.31"/><use href="#p" x="1480.3" y="234.05"/><use href="#p" x="1480.3" y="236.79"/><use href="#p" x="1480.3" y="237.88"/><use href="#p" x="1480.3" y="238.98"/><use href="#p" x="1480.3" y="240.07"/><use href="#p" x="1480.3" y="241.17"/><use href="#p" x="1480.3" y="246.92"/><use href="#p" x="1480.3" y="248.56"/><use href="#p" x="1480.3" y="251.16"/><use href="#p" x="1480.3" y="259.38"/><use href="#p" x="1480.3" y="263.48"/><use href="#p" x="1480.3" y="265.54"/><use href="#p" x="1480.3" y="297.71"/><use href="#p" x="1480.3" y="308.39"/><use href="#p" x="1480.3" y="338.1"/><use href="#p" x="1506.35" y="128.9"/><use href="#p" x="1506.35" y="162.17"/><use href="#p" x="1506.35" y="170.39"/><use href="#p" x="1506.35" y="173.81"/><use href="#p" x="1506.35" y="177.23"/><use href="#p" x="1506.35" y="184.76"/><use href="#p" x="1506.35" y="185.86"/><use href="#p" x="1506.35" y="186.95"/><use href="#p" x="1506.35" y="188.05"/><use href="#p" x="1506.35" y="189.14"/><use href="#p" x="1506.35" y="190.24"/><use href="#p" x="1506.35" y="191.33"/><use href="#p" x="1506.35" y="192.43"/><use href="#p" x="1506.35" y="193.52"/><use href="#p" x="1506.35" y="194.62"/><use href="#p" x="1506.35" y="195.71"/><use href="#p" x="1506.35" y="196.81"/><use href="#p" x="1506.35" y="197.9"/><use href="#p" x="1506.35" y="201.19"/><use href="#p" x="1506.35" y="203.93"/><use href="#p" x="1506.35" y="214.88"/><use href="#p" x="1506.35" y="215.98"/><use href="#p" x="1506.35" y="217.07"/><use href="#p" x="1506.35" y="218.17"/><use href="#p" x="1506.35" y="219.26"/><use href="#p" x="1506.35" y="220.36"/><use href="#p" x="1506.35" y="221.45"/><use href="#p" x="1506.35" y="222.55"/><use href="#p" x="1506.35" y="223.64"/><use href="#p" x="1506.35" y="224.74"/><use href="#p" x="1506.35" y="225.83"/><use href="#p" x="1506.35" y="227.2"/><use href="#p" x="1506.35" y="229.39"/><use href="#p" x="1506.35" y="231.58"/><use href="#p" x="1506.35" y="233.77"/><use href="#p" x="1506.35" y="235.96"/><use href="#p" x="1506.35" y="238.15"/><use href="#p" x="1506.35" y="240.35"/><use href="#p" x="1506.35" y="242.54"/><use href="#p" x="1506.35" y="244.73"/><use href="#p" x="1506.35" y="246.92"/><use href="#p" x="1506.35" y="249.11"/><use href="#p" x="1506.35" y="258.69"/><use href="#p" x="1506.35" y="271.01"/><use href="#p" x="1532.4" y="166.28"/><use href="#p" x="1532.4" y="171.07"/><use href="#p" x="1532.4" y="173.81"/><use href="#p" x="1532.4" y="179.29"/><use href="#p" x="1532.4" y="180.38"/><use href="#p" x="1532.4" y="181.48"/><use href="#p" x="1532.4" y="182.57"/><use href="#p" x="1532.4" y="183.67"/><use href="#p" x="1532.4" y="184.76"/><use href="#p" x="1532.4" y="185.86"/><use href="#p" x="1532.4" y="188.87"/><use href="#p" x="1532.4" y="189.96"/><use href="#p" x="1532.4" y="191.06"/><use href="#p" x="1532.4" y="192.15"/><use href="#p" x="1532.4" y="193.25"/><use href="#p" x="1532.4" y="194.35"/><use href="#p" x="1532.4" y="195.44"/><use href="#p" x="1532.4" y="196.54"/><use href="#p" x="1532.4" y="197.63"/><use href="#p" x="1532.4" y="198.73"/><use href="#p" x="1532.4" y="199.82"/><use href="#p" x="1532.4" y="200.92"/><use href="#p" x="1532.4" y="202.01"/><use href="#p" x="1532.4" y="203.11"/><use href="#p" x="1532.4" y="204.2"/><use href="#p" x="1532.4" y="205.3"/><use href="#p" x="1532.4" y="206.39"/><use href="#p" x="1532.4" y="207.49"/><use href="#p" x="1532.4" y="208.58"/><use href="#p" x="1532.4" y="209.68"/><use href="#p" x="1532.4" y="210.77"/><use href="#p" x="1532.4" y="211.87"/><use href="#p" x="1532.4" y="212.96"/><use href="#p" x="1532.4" y="214.06"/><use href="#p" x="1532.4" y="215.15"/><use href="#p" x="1532.4" y="216.25"/><use href="#p" x="1532.4" y="217.35"/><use href="#p" x="1532.4" y="218.44"/><use href="#p" x="1532.4" y="219.54"/><use href="#p" x="1532.4" y="220.63"/><use href="#p" x="1532.4" y="221.73"/><use href="#p" x="1532.4" y="222.82"/><use href="#p" x="1532.4" y="223.92"/><use href="#p" x="1532.4" y="225.01"/><use href="#p" x="1532.4" y="226.11"/><use href="#p" x="1532.4" y="227.2"/><use href="#p" x="1532.4" y="228.3"/><use href="#p" x="1532.4" y="229.39"/><use href="#p" x="1532.4" y="230.49"/><use href="#p" x="1532.4" y="231.58"/><use href="#p" x="1532.4" y="232.68"/><use href="#p" x="1532.4" y="233.77"/><use href="#p" x="1532.4" y="234.87"/><use href="#p" x="1532.4" y="235.96"/><use href="#p" x="1532.4" y="237.06"/><use href="#p" x="1532.4" y="238.15"/><use href="#p" x="1532.4" y="246.37"/><use href="#p" x="1532.4" y="251.85"/><use href="#p" x="1532.4" y="254.58"/><use href="#p" x="1532.4" y="257.32"/><use href="#p" x="1532.4" y="262.66"/><use href="#p" x="1532.4" y="264.3"/><use href="#p" x="1532.4" y="279.23"/><use href="#p" x="1532.4" y="303.6"/><use href="#p" x="1558.45" y="171.07"/><use href="#p" x="1558.45" y="173.12"/><use href="#p" x="1558.45" y="174.22"/><use href="#p" x="1558.45" y="175.32"/><use href="#p" x="1558.45" y="176.41"/><use href="#p" x="1558.45" y="177.51"/><use href="#p" x="1558.45" y="182.02"/><use href="#p" x="1558.45" y="184.76"/><use href="#p" x="1558.45" y="187.5"/><use href="#p" x="1558.45" y="188.6"/><use href="#p" x="1558.45" y="189.69"/><use href="#p" x="1558.45" y="190.79"/><use href="#p" x="1558.45" y="191.88"/><use href="#p" x="1558.45" y="192.98"/><use href="#p" x="1558.45" y="194.07"/><use href="#p" x="1558.45" y="195.17"/><use href="#p" x="1558.45" y="196.26"/><use href="#p" x="1558.45" y="197.36"/><use href="#p" x="1558.45" y="198.45"/><use href="#p" x="1558.45" y="199.55"/><use href="#p" x="1558.45" y="200.64"/><use href="#p" x="1558.45" y="201.74"/><use href="#p" x="1558.45" y="202.83"/><use href="#p" x="1558.45" y="203.93"/><use href="#p" x="1558.45" y="205.02"/><use href="#p" x="1558.45" y="206.12"/><use href="#p" x="1558.45" y="207.21"/><use href="#p" x="1558.45" y="208.31"/><use href="#p" x="1558.45" y="209.4"/><use href="#p" x="1558.45" y="210.5"/><use href="#p" x="1558.45" y="211.6"/><use href="#p" x="1558.45" y="212.69"/><use href="#p" x="1558.45" y="213.79"/><use href="#p" x="1558.45" y="214.88"/><use href="#p" x="1558.45" y="215.98"/><use href="#p" x="1558.45" y="217.07"/><use href="#p" x="1558.45" y="218.17"/><use href="#p" x="1558.45" y="219.26"/><use href="#p" x="1558.45" y="220.36"/><use href="#p" x="1558.45" y="221.45"/><use href="#p" x="1558.45" y="222.55"/><use href="#p" x="1558.45" y="223.64"/><use href="#p" x="1558.45" y="224.74"/><use href="#p" x="1558.45" y="225.83"/><use href="#p" x="1558.45" y="226.93"/><use href="#p" x="1558.45" y="228.02"/><use href="#p" x="1558.45" y="229.12"/><use href="#p" x="1558.45" y="230.21"/><use href="#p" x="1558.45" y="231.31"/><use href="#p" x="1558.45" y="234.05"/><use href="#p" x="1558.45" y="236.79"/><use href="#p" x="1558.45" y="239.52"/><use href="#p" x="1558.45" y="243.63"/><use href="#p" x="1558.45" y="246.23"/><use href="#p" x="1558.45" y="247.88"/><use href="#p" x="1558.45" y="255.95"/><use href="#p" x="1558.45" y="277.86"/><use href="#p" x="1558.45" y="281.96"/><use href="#p" x="1584.5" y="146.43"/><use href="#p" x="1584.5" y="155.33"/><use href="#p" x="1584.5" y="162.17"/><use href="#p" x="1584.5" y="175.18"/><use href="#p" x="1584.5" y="177.92"/><use href="#p" x="1584.5" y="179.97"/><use href="#p" x="1584.5" y="184.76"/><use href="#p" x="1584.5" y="187.5"/><use href="#p" x="1584.5" y="191.61"/><use href="#p" x="1584.5" y="192.7"/><use href="#p" x="1584.5" y="193.8"/><use href="#p" x="1584.5" y="194.89"/><use href="#p" x="1584.5" y="195.99"/><use href="#p" x="1584.5" y="197.08"/><use href="#p" x="1584.5" y="198.18"/><use href="#p" x="1584.5" y="199.27"/><use href="#p" x="1584.5" y="200.37"/><use href="#p" x="1584.5" y="201.46"/><use href="#p" x="1584.5" y="202.56"/><use href="#p" x="1584.5" y="203.65"/><use href="#p" x="1584.5" y="204.75"/><use href="#p" x="1584.5" y="205.85"/><use href="#p" x="1584.5" y="206.94"/><use href="#p" x="1584.5" y="208.04"/><use href="#p" x="1584.5" y="212.14"/><use href="#p" x="1584.5" y="213.24"/><use href="#p" x="1584.5" y="214.33"/><use href="#p" x="1584.5" y="215.43"/><use href="#p" x="1584.5" y="216.52"/><use href="#p" x="1584.5" y="217.62"/><use href="#p" x="1584.5" y="218.71"/><use href="#p" x="1584.5" y="219.81"/><use href="#p" x="1584.5" y="220.9"/><use href="#p" x="1584.5" y="222"/><use href="#p" x="1584.5" y="223.1"/><use href="#p" x="1584.5" y="224.19"/><use href="#p" x="1584.5" y="225.29"/><use href="#p" x="1584.5" y="226.38"/><use href="#p" x="1584.5" y="227.48"/><use href="#p" x="1584.5" y="228.57"/><use href="#p" x="1584.5" y="229.67"/><use href="#p" x="1584.5" y="230.76"/><use href="#p" x="1584.5" y="231.86"/><use href="#p" x="1584.5" y="232.95"/><use href="#p" x="1584.5" y="234.05"/><use href="#p" x="1584.5" y="235.14"/><use href="#p" x="1584.5" y="236.24"/><use href="#p" x="1584.5" y="237.33"/><use href="#p" x="1584.5" y="238.43"/><use href="#p" x="1584.5" y="239.52"/><use href="#p" x="1584.5" y="243.63"/><use href="#p" x="1584.5" y="247.74"/><use href="#p" x="1584.5" y="251.85"/><use href="#p" x="1610.55" y="163.54"/><use href="#p" x="1610.55" y="171.07"/><use href="#p" x="1610.55" y="173.81"/><use href="#p" x="1610.55" y="176.55"/><use href="#p" x="1610.55" y="181.34"/><use href="#p" x="1610.55" y="184.76"/><use href="#p" x="1610.55" y="188.18"/><use href="#p" x="1610.55" y="192.98"/><use href="#p" x="1610.55" y="195.71"/><use href="#p" x="1610.55" y="196.81"/><use href="#p" x="1610.55" y="197.9"/><use href="#p" x="1610.55" y="199"/><use href="#p" x="1610.55" y="200.1"/><use href="#p" x="1610.55" y="201.19"/><use href="#p" x="1610.55" y="202.29"/><use href="#p" x="1610.55" y="203.38"/><use href="#p" x="1610.55" y="217.62"/><use href="#p" x="1610.55" y="218.71"/><use href="#p" x="1610.55" y="219.81"/><use href="#p" x="1610.55" y="220.9"/><use href="#p" x="1610.55" y="222"/><use href="#p" x="1610.55" y="223.1"/><use href="#p" x="1610.55" y="224.19"/><use href="#p" x="1610.55" y="225.29"/><use href="#p" x="1610.55" y="226.38"/><use href="#p" x="1610.55" y="227.48"/><use href="#p" x="1610.55" y="228.57"/><use href="#p" x="1610.55" y="229.67"/><use href="#p" x="1610.55" y="230.76"/><use href="#p" x="1610.55" y="231.86"/><use href="#p" x="1610.55" y="232.95"/><use href="#p" x="1610.55" y="234.05"/><use href="#p" x="1610.55" y="235.14"/><use href="#p" x="1610.55" y="236.24"/><use href="#p" x="1610.55" y="237.33"/><use href="#p" x="1610.55" y="238.43"/><use href="#p" x="1610.55" y="239.52"/><use href="#p" x="1610.55" y="243.63"/><use href="#p" x="1610.55" y="263.48"/><use href="#p" x="1636.6" y="144.1"/><use href="#p" x="1636.6" y="152.59"/><use href="#p" x="1636.6" y="158.07"/><use href="#p" x="1636.6" y="161.49"/><use href="#p" x="1636.6" y="171.07"/><use href="#p" x="1636.6" y="173.81"/><use href="#p" x="1636.6" y="176.55"/><use href="#p" x="1636.6" y="179.29"/><use href="#p" x="1636.6" y="180.38"/><use href="#p" x="1636.6" y="181.48"/><use href="#p" x="1636.6" y="182.57"/><use href="#p" x="1636.6" y="183.67"/><use href="#p" x="1636.6" y="184.76"/><use href="#p" x="1636.6" y="185.86"/><use href="#p" x="1636.6" y="186.95"/><use href="#p" x="1636.6" y="191.61"/><use href="#p" x="1636.6" y="194.35"/><use href="#p" x="1636.6" y="198.45"/><use href="#p" x="1636.6" y="199.55"/><use href="#p" x="1636.6" y="200.64"/><use href="#p" x="1636.6" y="201.74"/><use href="#p" x="1636.6" y="202.83"/><use href="#p" x="1636.6" y="203.93"/><use href="#p" x="1636.6" y="205.02"/><use href="#p" x="1636.6" y="206.12"/><use href="#p" x="1636.6" y="212.14"/><use href="#p" x="1636.6" y="213.24"/><use href="#p" x="1636.6" y="214.33"/><use href="#p" x="1636.6" y="215.43"/><use href="#p" x="1636.6" y="216.52"/><use href="#p" x="1636.6" y="217.62"/><use href="#p" x="1636.6" y="218.71"/><use href="#p" x="1636.6" y="219.81"/><use href="#p" x="1636.6" y="220.9"/><use href="#p" x="1636.6" y="222"/><use href="#p" x="1636.6" y="223.1"/><use href="#p" x="1636.6" y="224.19"/><use href="#p" x="1636.6" y="225.29"/><use href="#p" x="1636.6" y="226.38"/><use href="#p" x="1636.6" y="227.48"/><use href="#p" x="1636.6" y="228.57"/><use href="#p" x="1636.6" y="229.67"/><use href="#p" x="1636.6" y="230.76"/><use href="#p" x="1636.6" y="231.86"/><use href="#p" x="1636.6" y="232.95"/><use href="#p" x="1636.6" y="234.05"/><use href="#p" x="1636.6" y="238.15"/><use href="#p" x="1636.6" y="240.89"/><use href="#p" x="1636.6" y="243.63"/><use href="#p" x="1636.6" y="247.05"/><use href="#p" x="1636.6" y="250.48"/><use href="#p" x="1636.6" y="253.9"/><use href="#p" x="1662.65" y="162.17"/><use href="#p" x="1662.65" y="166.96"/><use href="#p" x="1662.65" y="170.39"/><use href="#p" x="1662.65" y="175.18"/><use href="#p" x="1662.65" y="181.34"/><use href="#p" x="1662.65" y="186.13"/><use href="#p" x="1662.65" y="188.87"/><use href="#p" x="1662.65" y="192.29"/><use href="#p" x="1662.65" y="201.19"/><use href="#p" x="1662.65" y="206.67"/><use href="#p" x="1662.65" y="221.73"/><use href="#p" x="1662.65" y="224.46"/><use href="#p" x="1662.65" y="225.56"/><use href="#p" x="1662.65" y="226.65"/><use href="#p" x="1662.65" y="227.75"/><use href="#p" x="1662.65" y="231.31"/><use href="#p" x="1662.65" y="239.52"/><use href="#p" x="1662.65" y="242.26"/><use href="#p" x="1662.65" y="246.92"/><use href="#p" x="1662.65" y="248.56"/><use href="#p" x="1662.65" y="252.39"/><use href="#p" x="1662.65" y="254.04"/><use href="#p" x="1662.65" y="267.59"/><use href="#p" x="1688.7" y="161.76"/><use href="#p" x="1688.7" y="170.39"/><use href="#p" x="1688.7" y="179.29"/><use href="#p" x="1688.7" y="186.13"/><use href="#p" x="1688.7" y="194.35"/><use href="#p" x="1688.7" y="198.45"/><use href="#p" x="1688.7" y="201.19"/><use href="#p" x="1688.7" y="219.67"/><use href="#p" x="1688.7" y="225.01"/><use href="#p" x="1688.7" y="226.65"/><use href="#p" x="1688.7" y="231.31"/><use href="#p" x="1688.7" y="235.42"/><use href="#p" x="1688.7" y="240.21"/><use href="#p" x="1688.7" y="246.37"/>
<use href="#t" x="1271.9" y="258.42"/><use href="#t" x="1297.95" y="256.64"/><use href="#t" x="1324" y="239.52"/><use href="#t" x="1350.05" y="239.52"/><use href="#t" x="1376.1" y="234.73"/><use href="#t" x="1402.15" y="227.61"/><use href="#t" x="1428.2" y="225.15"/><use href="#t" x="1454.25" y="216.52"/><use href="#t" x="1480.3" y="216.25"/><use href="#t" x="1506.35" y="208.04"/><use href="#t" x="1532.4" y="210.5"/><use href="#t" x="1558.45" y="210.5"/><use href="#t" x="1584.5" y="208.45"/><use href="#t" x="1610.55" y="210.5"/><use href="#t" x="1636.6" y="206.39"/><use href="#t" x="1662.65" y="213.24"/><use href="#t" x="1688.7" y="208.45"/>
<path d="M1271.9 247.17L1688.7 197.93" stroke="#f00" stroke-width="2.7" fill="none" stroke-linecap="square"/>
<path d="M1250 158.41L1699.1 105.77M1250 199.28L1699.1 146.64M1250 240.15L1699.1 187.51M1250 281.01L1699.1 228.37M1250 321.88L1699.1 269.24M1250 362.75L1699.1 310.11" stroke="#00f" stroke-width="2.7" fill="none" stroke-dasharray="10 4.3"/>
</g>
<rect x="1256.3" y="35.3" width="442.8" height="423.2" fill="none" stroke="#000" stroke-width="1.45"/>
<path d="M1271.9 458.5v6.6M1376.1 458.5v6.6M1480.3 458.5v6.6M1584.5 458.5v6.6M1688.7 458.5v6.6M1256.3 409.01h-6.6M1256.3 306.84h-6.6M1256.3 204.67h-6.6M1256.3 102.5h-6.6" stroke="#000" stroke-width="1.45" fill="none"/>
<text x="1271.9" y="495.6" text-anchor="middle">18</text>
<text x="1376.1" y="495.6" text-anchor="middle">20</text>
<text x="1480.3" y="495.6" text-anchor="middle">22</text>
<text x="1584.5" y="495.6" text-anchor="middle">24</text>
<text x="1688.7" y="495.6" text-anchor="middle">26</text>
<text x="1244" y="421.41" text-anchor="end">3</text>
<text x="1244" y="319.24" text-anchor="end">4</text>
<text x="1244" y="217.07" text-anchor="end">5</text>
<text x="1244" y="114.9" text-anchor="end">6</text>
<text x="1477.7" y="24.3" text-anchor="middle">Hot summer and cold winter region</text>
<text x="1477.7" y="534.5" text-anchor="middle">temperature (℃)</text>
<text transform="translate(1208.8 246.9) rotate(-90)" text-anchor="middle">precipitation ln(mm)</text>
</g>
<g>
<g clip-path="url(#c3)">
<use href="#p" x="89.15" y="835.98"/><use href="#p" x="89.15" y="855.83"/><use href="#p" x="89.15" y="881.85"/><use href="#p" x="89.15" y="917.44"/><use href="#p" x="118.67" y="871.17"/><use href="#p" x="118.67" y="872.54"/><use href="#p" x="148.2" y="822.98"/><use href="#p" x="148.2" y="858.57"/><use href="#p" x="148.2" y="860.62"/><use href="#p" x="148.2" y="872.26"/><use href="#p" x="148.2" y="879.79"/><use href="#p" x="148.2" y="893.07"/><use href="#p" x="177.72" y="847.21"/><use href="#p" x="177.72" y="868.15"/><use href="#p" x="177.72" y="876.37"/><use href="#p" x="177.72" y="902.79"/><use href="#p" x="207.25" y="849.67"/><use href="#p" x="207.25" y="851.45"/><use href="#p" x="207.25" y="857.89"/><use href="#p" x="207.25" y="887.05"/><use href="#p" x="236.77" y="820.92"/><use href="#p" x="236.77" y="849.26"/><use href="#p" x="236.77" y="856.52"/><use href="#p" x="236.77" y="873.63"/><use href="#p" x="236.77" y="876.78"/><use href="#p" x="236.77" y="880.07"/><use href="#p" x="236.77" y="883.9"/><use href="#p" x="236.77" y="905.12"/><use href="#p" x="266.3" y="794.5"/><use href="#p" x="266.3" y="821.88"/><use href="#p" x="266.3" y="830.37"/><use href="#p" x="266.3" y="832.01"/><use href="#p" x="266.3" y="845.98"/><use href="#p" x="266.3" y="853.64"/><use href="#p" x="266.3" y="855.29"/><use href="#p" x="266.3" y="861.31"/><use href="#p" x="266.3" y="866.1"/><use href="#p" x="266.3" y="868.15"/><use href="#p" x="266.3" y="872.26"/><use href="#p" x="266.3" y="878.01"/><use href="#p" x="295.82" y="820.92"/><use href="#p" x="295.82" y="835.3"/><use href="#p" x="295.82" y="843.51"/><use href="#p" x="295.82" y="865.42"/><use href="#p" x="295.82" y="869.52"/><use href="#p" x="295.82" y="877.74"/><use href="#p" x="295.82" y="881.85"/><use href="#p" x="325.35" y="829.82"/><use href="#p" x="325.35" y="834.61"/><use href="#p" x="325.35" y="845.57"/><use href="#p" x="325.35" y="851.04"/><use href="#p" x="325.35" y="867.47"/><use href="#p" x="325.35" y="869.52"/><use href="#p" x="325.35" y="871.58"/><use href="#p" x="325.35" y="873.63"/><use href="#p" x="325.35" y="878.42"/><use href="#p" x="354.88" y="800.11"/><use href="#p" x="354.88" y="848.99"/><use href="#p" x="354.88" y="867.47"/><use href="#p" x="354.88" y="869.52"/><use href="#p" x="354.88" y="880.2"/><use href="#p" x="384.4" y="799.43"/><use href="#p" x="384.4" y="808.6"/><use href="#p" x="384.4" y="829.82"/><use href="#p" x="384.4" y="837.21"/><use href="#p" x="384.4" y="838.86"/><use href="#p" x="384.4" y="853.78"/><use href="#p" x="384.4" y="861.31"/><use href="#p" x="384.4" y="866.1"/><use href="#p" x="384.4" y="868.7"/><use href="#p" x="384.4" y="870.35"/><use href="#p" x="384.4" y="885.95"/><use href="#p" x="413.92" y="786.01"/><use href="#p" x="413.92" y="794.23"/><use href="#p" x="413.92" y="801.76"/><use href="#p" x="413.92" y="809.97"/><use href="#p" x="413.92" y="829.82"/><use href="#p" x="413.92" y="848.3"/><use href="#p" x="413.92" y="857.2"/><use href="#p" x="413.92" y="859.26"/><use href="#p" x="413.92" y="867.33"/><use href="#p" x="413.92" y="868.98"/><use href="#p" x="413.92" y="888.01"/><use href="#p" x="443.45" y="834.2"/><use href="#p" x="443.45" y="856.52"/><use href="#p" x="443.45" y="897.59"/><use href="#p" x="472.97" y="827.77"/><use href="#p" x="472.97" y="839.13"/><use href="#p" x="472.97" y="869.11"/><use href="#p" x="472.97" y="888.28"/><use href="#p" x="502.5" y="827.36"/><use href="#p" x="502.5" y="841.46"/><use href="#p" x="502.5" y="855.7"/><use href="#p" x="502.5" y="857.34"/><use href="#p" x="502.5" y="876.37"/><use href="#p" x="502.5" y="887.6"/><use href="#p" x="502.5" y="901.29"/>
<use href="#t" x="89.15" y="869.25"/><use href="#t" x="148.2" y="863.36"/><use href="#t" x="177.72" y="872.26"/><use href="#t" x="207.25" y="861.99"/><use href="#t" x="236.77" y="864.46"/><use href="#t" x="266.3" y="847.62"/><use href="#t" x="295.82" y="852.82"/><use href="#t" x="325.35" y="856.93"/><use href="#t" x="354.88" y="849.67"/><use href="#t" x="384.4" y="841.73"/><use href="#t" x="413.92" y="834.34"/><use href="#t" x="443.45" y="859.26"/><use href="#t" x="472.97" y="853.51"/><use href="#t" x="502.5" y="858.3"/>
<path d="M89.15 866.73L502.5 847.11" stroke="#f00" stroke-width="2.7" fill="none" stroke-linecap="square"/>
<path d="M65.75 762.97L514.85 716.34M65.75 803.83L514.85 757.2M65.75 844.7L514.85 798.07M65.75 885.57L514.85 838.94M65.75 926.44L514.85 879.81M65.75 967.31L514.85 920.68" stroke="#00f" stroke-width="2.7" fill="none" stroke-dasharray="10 4.3"/>
</g>
<rect x="72.05" y="621.55" width="442.8" height="423.2" fill="none" stroke="#000" stroke-width="1.45"/>
<path d="M148.2 1044.75v6.6M266.3 1044.75v6.6M384.4 1044.75v6.6M502.5 1044.75v6.6M72.05 995.26h-6.6M72.05 893.09h-6.6M72.05 790.92h-6.6M72.05 688.75h-6.6" stroke="#000" stroke-width="1.45" fill="none"/>
<text x="148.2" y="1081.85" text-anchor="middle">16</text>
<text x="266.3" y="1081.85" text-anchor="middle">18</text>
<text x="384.4" y="1081.85" text-anchor="middle">20</text>
<text x="502.5" y="1081.85" text-anchor="middle">22</text>
<text x="59.75" y="1007.66" text-anchor="end">3</text>
<text x="59.75" y="905.49" text-anchor="end">4</text>
<text x="59.75" y="803.32" text-anchor="end">5</text>
<text x="59.75" y="701.15" text-anchor="end">6</text>
<text x="293.45" y="610.55" text-anchor="middle">Temperate region</text>
<text x="293.45" y="1120.75" text-anchor="middle">temperature (℃)</text>
<text transform="translate(24.55 833.15) rotate(-90)" text-anchor="middle">precipitation ln(mm)</text>
</g>
<g>
<g clip-path="url(#c4)">
<use href="#p" x="708.3" y="740.93"/><use href="#p" x="708.3" y="742.02"/><use href="#p" x="708.3" y="757.77"/><use href="#p" x="708.3" y="766.67"/><use href="#p" x="708.3" y="783.78"/><use href="#p" x="708.3" y="785.83"/><use href="#p" x="708.3" y="787.89"/><use href="#p" x="708.3" y="791.31"/><use href="#p" x="708.3" y="808.01"/><use href="#p" x="708.3" y="825.95"/><use href="#p" x="708.3" y="844.43"/><use href="#p" x="782.2" y="728.06"/><use href="#p" x="782.2" y="738.6"/><use href="#p" x="782.2" y="750.92"/><use href="#p" x="782.2" y="753.66"/><use href="#p" x="782.2" y="758.45"/><use href="#p" x="782.2" y="769.95"/><use href="#p" x="782.2" y="771.6"/><use href="#p" x="782.2" y="777.48"/><use href="#p" x="782.2" y="779.12"/><use href="#p" x="782.2" y="787.2"/><use href="#p" x="782.2" y="794.73"/><use href="#p" x="782.2" y="798.15"/><use href="#p" x="782.2" y="798.84"/><use href="#p" x="782.2" y="799.93"/><use href="#p" x="782.2" y="801.03"/><use href="#p" x="782.2" y="802.12"/><use href="#p" x="782.2" y="803.22"/><use href="#p" x="782.2" y="816.23"/><use href="#p" x="856.1" y="725.05"/><use href="#p" x="856.1" y="726.69"/><use href="#p" x="856.1" y="736.55"/><use href="#p" x="856.1" y="739.29"/><use href="#p" x="856.1" y="741.34"/><use href="#p" x="856.1" y="743.39"/><use href="#p" x="856.1" y="752.98"/><use href="#p" x="856.1" y="755.03"/><use href="#p" x="856.1" y="757.08"/><use href="#p" x="856.1" y="761.88"/><use href="#p" x="856.1" y="778.99"/><use href="#p" x="856.1" y="780.08"/><use href="#p" x="856.1" y="781.18"/><use href="#p" x="856.1" y="782.27"/><use href="#p" x="856.1" y="783.37"/><use href="#p" x="856.1" y="784.46"/><use href="#p" x="856.1" y="785.56"/><use href="#p" x="856.1" y="793.36"/><use href="#p" x="856.1" y="796.1"/><use href="#p" x="856.1" y="798.7"/><use href="#p" x="856.1" y="800.35"/><use href="#p" x="856.1" y="808.42"/><use href="#p" x="856.1" y="811.85"/><use href="#p" x="856.1" y="814.58"/><use href="#p" x="856.1" y="817.6"/><use href="#p" x="930" y="729.02"/><use href="#p" x="930" y="730.66"/><use href="#p" x="930" y="742.71"/><use href="#p" x="930" y="746.13"/><use href="#p" x="930" y="747.23"/><use href="#p" x="930" y="748.32"/><use href="#p" x="930" y="749.42"/><use href="#p" x="930" y="750.51"/><use href="#p" x="930" y="755.71"/><use href="#p" x="930" y="757.77"/><use href="#p" x="930" y="760.51"/><use href="#p" x="930" y="765.3"/><use href="#p" x="930" y="767.35"/><use href="#p" x="930" y="774.88"/><use href="#p" x="930" y="775.98"/><use href="#p" x="930" y="777.07"/><use href="#p" x="930" y="778.17"/><use href="#p" x="930" y="779.26"/><use href="#p" x="930" y="780.36"/><use href="#p" x="930" y="783.78"/><use href="#p" x="930" y="787.89"/><use href="#p" x="930" y="790.62"/><use href="#p" x="930" y="792.68"/><use href="#p" x="930" y="795.42"/><use href="#p" x="930" y="798.84"/><use href="#p" x="930" y="814.86"/><use href="#p" x="930" y="819.38"/><use href="#p" x="930" y="822.11"/><use href="#p" x="1003.9" y="706.15"/><use href="#p" x="1003.9" y="725.6"/><use href="#p" x="1003.9" y="730.39"/><use href="#p" x="1003.9" y="737.92"/><use href="#p" x="1003.9" y="754.89"/><use href="#p" x="1003.9" y="756.54"/><use href="#p" x="1003.9" y="764.61"/><use href="#p" x="1003.9" y="766.67"/><use href="#p" x="1003.9" y="768.72"/><use href="#p" x="1003.9" y="784.46"/><use href="#p" x="1003.9" y="787.89"/><use href="#p" x="1003.9" y="791.31"/><use href="#p" x="1003.9" y="794.05"/><use href="#p" x="1003.9" y="797.47"/><use href="#p" x="1003.9" y="799.52"/><use href="#p" x="1003.9" y="801.58"/><use href="#p" x="1003.9" y="803.63"/><use href="#p" x="1003.9" y="808.29"/><use href="#p" x="1003.9" y="809.93"/><use href="#p" x="1003.9" y="813.76"/><use href="#p" x="1003.9" y="815.4"/><use href="#p" x="1003.9" y="820.74"/><use href="#p" x="1003.9" y="829.37"/><use href="#p" x="1003.9" y="831.01"/><use href="#p" x="1077.8" y="726.69"/><use href="#p" x="1077.8" y="730.66"/><use href="#p" x="1077.8" y="734.49"/><use href="#p" x="1077.8" y="743.12"/><use href="#p" x="1077.8" y="755.71"/><use href="#p" x="1077.8" y="757.36"/><use href="#p" x="1077.8" y="759.14"/><use href="#p" x="1077.8" y="767.35"/><use href="#p" x="1077.8" y="777.62"/><use href="#p" x="1077.8" y="791.31"/><use href="#p" x="1077.8" y="808.97"/><use href="#p" x="1077.8" y="810.61"/><use href="#p" x="1077.8" y="820.06"/><use href="#p" x="1077.8" y="824.85"/><use href="#p" x="1077.8" y="829.92"/>
<use href="#t" x="708.3" y="776.66"/><use href="#t" x="782.2" y="771.87"/><use href="#t" x="856.1" y="770.5"/><use href="#t" x="930" y="767.76"/><use href="#t" x="1003.9" y="775.29"/><use href="#t" x="1077.8" y="770.5"/>
<path d="M708.3 774.16L1077.8 771.41" stroke="#f00" stroke-width="2.7" fill="none" stroke-linecap="square"/>
<path d="M657.9 713.53L1107 695.39M657.9 754.39L1107 736.26M657.9 795.26L1107 777.13M657.9 836.13L1107 818M657.9 877L1107 858.86M657.9 917.87L1107 899.73" stroke="#00f" stroke-width="2.7" fill="none" stroke-dasharray="10 4.3"/>
</g>
<rect x="664.2" y="621.55" width="442.8" height="423.2" fill="none" stroke="#000" stroke-width="1.45"/>
<path d="M856.1 1044.75v6.6M664.2 995.26h-6.6M664.2 893.09h-6.6M664.2 790.92h-6.6M664.2 688.75h-6.6" stroke="#000" stroke-width="1.45" fill="none"/>
<text x="856.1" y="1081.85" text-anchor="middle">24</text>
<text x="651.9" y="1007.66" text-anchor="end">3</text>
<text x="651.9" y="905.49" text-anchor="end">4</text>
<text x="651.9" y="803.32" text-anchor="end">5</text>
<text x="651.9" y="701.15" text-anchor="end">6</text>
<text x="885.6" y="610.55" text-anchor="middle">Hot summer and warm winter region</text>
<text x="885.6" y="1120.75" text-anchor="middle">temperature (℃)</text>
<text transform="translate(616.7 833.15) rotate(-90)" text-anchor="middle">precipitation ln(mm)</text>
</g>
<g>
<g clip-path="url(#c6)">
<use href="#p" x="89.15" y="1441.05"/><use href="#p" x="89.15" y="1451.59"/><use href="#p" x="89.15" y="1453.23"/><use href="#p" x="89.15" y="1469.52"/><use href="#p" x="89.15" y="1475.55"/><use href="#p" x="89.15" y="1477.19"/><use href="#p" x="118.67" y="1446.39"/><use href="#p" x="118.67" y="1448.03"/><use href="#p" x="118.67" y="1457.2"/><use href="#p" x="118.67" y="1472.26"/><use href="#p" x="118.67" y="1481.16"/><use href="#p" x="148.2" y="1434.61"/><use href="#p" x="148.2" y="1461.31"/><use href="#p" x="148.2" y="1462.4"/><use href="#p" x="148.2" y="1463.5"/><use href="#p" x="148.2" y="1464.6"/><use href="#p" x="148.2" y="1479.11"/><use href="#p" x="148.2" y="1481.16"/><use href="#p" x="148.2" y="1483.21"/><use href="#p" x="148.2" y="1487.32"/><use href="#p" x="148.2" y="1510.6"/><use href="#p" x="177.72" y="1425.71"/><use href="#p" x="177.72" y="1433.24"/><use href="#p" x="177.72" y="1442.55"/><use href="#p" x="177.72" y="1469.39"/><use href="#p" x="177.72" y="1471.03"/><use href="#p" x="207.25" y="1421.61"/><use href="#p" x="207.25" y="1429.14"/><use href="#p" x="207.25" y="1430.23"/><use href="#p" x="207.25" y="1431.33"/><use href="#p" x="207.25" y="1432.42"/><use href="#p" x="207.25" y="1438.58"/><use href="#p" x="207.25" y="1440.23"/><use href="#p" x="207.25" y="1444.88"/><use href="#p" x="207.25" y="1457.75"/><use href="#p" x="207.25" y="1459.39"/><use href="#p" x="207.25" y="1466.1"/><use href="#p" x="207.25" y="1479.11"/><use href="#p" x="207.25" y="1481.16"/><use href="#p" x="207.25" y="1523.19"/><use href="#p" x="236.77" y="1411.34"/><use href="#p" x="236.77" y="1430.51"/><use href="#p" x="236.77" y="1433.24"/><use href="#p" x="236.77" y="1452.41"/><use href="#p" x="236.77" y="1460.62"/><use href="#p" x="236.77" y="1486.64"/><use href="#p" x="266.3" y="1379.58"/><use href="#p" x="266.3" y="1400.66"/><use href="#p" x="266.3" y="1406.55"/><use href="#p" x="266.3" y="1413.94"/><use href="#p" x="266.3" y="1415.58"/><use href="#p" x="266.3" y="1422.15"/><use href="#p" x="266.3" y="1423.8"/><use href="#p" x="266.3" y="1427.08"/><use href="#p" x="266.3" y="1438.72"/><use href="#p" x="266.3" y="1444.88"/><use href="#p" x="266.3" y="1445.98"/><use href="#p" x="266.3" y="1447.07"/><use href="#p" x="266.3" y="1448.17"/><use href="#p" x="266.3" y="1453.64"/><use href="#p" x="266.3" y="1455.29"/><use href="#p" x="266.3" y="1461.31"/><use href="#p" x="266.3" y="1466.1"/><use href="#p" x="295.82" y="1397.65"/><use href="#p" x="295.82" y="1400.39"/><use href="#p" x="295.82" y="1407.78"/><use href="#p" x="295.82" y="1409.42"/><use href="#p" x="295.82" y="1412.02"/><use href="#p" x="295.82" y="1414.76"/><use href="#p" x="295.82" y="1418.87"/><use href="#p" x="295.82" y="1436.67"/><use href="#p" x="295.82" y="1437.76"/><use href="#p" x="295.82" y="1438.86"/><use href="#p" x="295.82" y="1439.95"/><use href="#p" x="295.82" y="1441.05"/><use href="#p" x="295.82" y="1442.14"/><use href="#p" x="295.82" y="1443.24"/><use href="#p" x="295.82" y="1444.33"/><use href="#p" x="295.82" y="1445.43"/><use href="#p" x="295.82" y="1446.52"/><use href="#p" x="295.82" y="1447.62"/><use href="#p" x="295.82" y="1461.31"/><use href="#p" x="295.82" y="1469.52"/><use href="#p" x="325.35" y="1392.72"/><use href="#p" x="325.35" y="1394.36"/><use href="#p" x="325.35" y="1401.76"/><use href="#p" x="325.35" y="1402.85"/><use href="#p" x="325.35" y="1403.95"/><use href="#p" x="325.35" y="1405.04"/><use href="#p" x="325.35" y="1407.92"/><use href="#p" x="325.35" y="1413.94"/><use href="#p" x="325.35" y="1415.58"/><use href="#p" x="325.35" y="1431.19"/><use href="#p" x="325.35" y="1435.3"/><use href="#p" x="325.35" y="1439.27"/><use href="#p" x="325.35" y="1440.91"/><use href="#p" x="325.35" y="1447.62"/><use href="#p" x="325.35" y="1451.04"/><use href="#p" x="325.35" y="1453.78"/><use href="#p" x="325.35" y="1461.99"/><use href="#p" x="325.35" y="1469.11"/><use href="#p" x="354.88" y="1386.7"/><use href="#p" x="354.88" y="1389.98"/><use href="#p" x="354.88" y="1391.62"/><use href="#p" x="354.88" y="1396.96"/><use href="#p" x="354.88" y="1399.7"/><use href="#p" x="354.88" y="1405.18"/><use href="#p" x="354.88" y="1412.02"/><use href="#p" x="354.88" y="1413.12"/><use href="#p" x="354.88" y="1414.21"/><use href="#p" x="354.88" y="1415.31"/><use href="#p" x="354.88" y="1428.32"/><use href="#p" x="354.88" y="1429.96"/><use href="#p" x="354.88" y="1442.83"/><use href="#p" x="354.88" y="1466.1"/><use href="#p" x="354.88" y="1467.47"/><use href="#p" x="354.88" y="1478.01"/><use href="#p" x="354.88" y="1523.6"/><use href="#p" x="384.4" y="1389.43"/><use href="#p" x="384.4" y="1394.23"/><use href="#p" x="384.4" y="1400.39"/><use href="#p" x="384.4" y="1405.18"/><use href="#p" x="384.4" y="1412.57"/><use href="#p" x="384.4" y="1414.21"/><use href="#p" x="384.4" y="1429.82"/><use href="#p" x="384.4" y="1433.11"/><use href="#p" x="384.4" y="1434.75"/><use href="#p" x="384.4" y="1438.04"/><use href="#p" x="384.4" y="1442.14"/><use href="#p" x="384.4" y="1450.9"/><use href="#p" x="384.4" y="1452.55"/><use href="#p" x="413.92" y="1392.86"/><use href="#p" x="413.92" y="1393.95"/><use href="#p" x="413.92" y="1395.05"/><use href="#p" x="413.92" y="1396.14"/><use href="#p" x="413.92" y="1397.24"/><use href="#p" x="413.92" y="1398.33"/><use href="#p" x="413.92" y="1400.39"/><use href="#p" x="413.92" y="1403.81"/><use href="#p" x="413.92" y="1405.86"/><use href="#p" x="413.92" y="1407.92"/><use href="#p" x="413.92" y="1427.77"/><use href="#p" x="413.92" y="1429.82"/><use href="#p" x="413.92" y="1446.93"/><use href="#p" x="413.92" y="1449.67"/><use href="#p" x="443.45" y="1385.05"/><use href="#p" x="443.45" y="1391.35"/><use href="#p" x="443.45" y="1392.99"/><use href="#p" x="443.45" y="1402.44"/><use href="#p" x="443.45" y="1403.81"/><use href="#p" x="443.45" y="1414.08"/><use href="#p" x="443.45" y="1423.25"/><use href="#p" x="443.45" y="1460.35"/><use href="#p" x="472.97" y="1374.38"/><use href="#p" x="472.97" y="1383.96"/><use href="#p" x="472.97" y="1422.7"/><use href="#p" x="472.97" y="1442.83"/><use href="#p" x="472.97" y="1452.41"/><use href="#p" x="502.5" y="1390.39"/><use href="#p" x="502.5" y="1396.69"/><use href="#p" x="502.5" y="1403.12"/><use href="#p" x="502.5" y="1409.29"/><use href="#p" x="502.5" y="1427.36"/><use href="#p" x="502.5" y="1459.26"/>
<use href="#t" x="89.15" y="1460.62"/><use href="#t" x="118.67" y="1463.5"/><use href="#t" x="148.2" y="1470.07"/><use href="#t" x="177.72" y="1450.63"/><use href="#t" x="207.25" y="1450.08"/><use href="#t" x="236.77" y="1445.43"/><use href="#t" x="266.3" y="1433.65"/><use href="#t" x="295.82" y="1428.45"/><use href="#t" x="325.35" y="1421.61"/><use href="#t" x="354.88" y="1420.24"/><use href="#t" x="384.4" y="1422.29"/><use href="#t" x="413.92" y="1411.75"/><use href="#t" x="443.45" y="1407.23"/><use href="#t" x="472.97" y="1410.38"/><use href="#t" x="502.5" y="1412.43"/>
<path d="M89.15 1465.77L502.5 1401.54" stroke="#f00" stroke-width="2.7" fill="none" stroke-linecap="square"/>
<path d="M65.75 1350.03L514.85 1297.87M65.75 1395.75L514.85 1343.59M65.75 1441.47L514.85 1389.3M65.75 1487.19L514.85 1435.03M65.75 1532.91L514.85 1480.74" stroke="#00f" stroke-width="2.7" fill="none" stroke-dasharray="10 4.3"/>
</g>
<rect x="72.05" y="1207.6" width="442.8" height="423.2" fill="none" stroke="#000" stroke-width="1.45"/>
<path d="M148.2 1630.8v6.6M266.3 1630.8v6.6M384.4 1630.8v6.6M502.5 1630.8v6.6M72.05 1577.9h-6.6M72.05 1463.6h-6.6M72.05 1349.3h-6.6M72.05 1235h-6.6" stroke="#000" stroke-width="1.45" fill="none"/>
<text x="148.2" y="1667.9" text-anchor="middle">18</text>
<text x="266.3" y="1667.9" text-anchor="middle">20</text>
<text x="384.4" y="1667.9" text-anchor="middle">22</text>
<text x="502.5" y="1667.9" text-anchor="middle">24</text>
<text x="59.75" y="1590.3" text-anchor="end">1</text>
<text x="59.75" y="1476" text-anchor="end">2</text>
<text x="59.75" y="1361.7" text-anchor="end">3</text>
<text x="59.75" y="1247.4" text-anchor="end">4</text>
<text x="293.45" y="1196.6" text-anchor="middle">Severe cold region</text>
<text x="293.45" y="1706.8" text-anchor="middle">temperature (℃)</text>
<text transform="translate(24.55 1419.2) rotate(-90)" text-anchor="middle">precipitation ln(mm)</text>
</g>
<g>
<g clip-path="url(#c7)">
<use href="#p" x="673.24" y="1420.86"/><use href="#p" x="673.24" y="1452.62"/><use href="#p" x="673.24" y="1462.2"/><use href="#p" x="673.24" y="1474.52"/><use href="#p" x="673.24" y="1486.85"/><use href="#p" x="673.24" y="1503.27"/><use href="#p" x="688.5" y="1427.29"/><use href="#p" x="688.5" y="1432.77"/><use href="#p" x="688.5" y="1477.26"/><use href="#p" x="688.5" y="1503.96"/><use href="#p" x="688.5" y="1531.75"/><use href="#p" x="703.76" y="1441.67"/><use href="#p" x="703.76" y="1466.31"/><use href="#p" x="703.76" y="1491.64"/><use href="#p" x="703.76" y="1497.11"/><use href="#p" x="703.76" y="1544.35"/><use href="#p" x="719.03" y="1328.04"/><use href="#p" x="719.03" y="1412.64"/><use href="#p" x="719.03" y="1427.98"/><use href="#p" x="719.03" y="1448.51"/><use href="#p" x="719.03" y="1459.46"/><use href="#p" x="719.03" y="1462.89"/><use href="#p" x="719.03" y="1469.05"/><use href="#p" x="719.03" y="1484.79"/><use href="#p" x="734.29" y="1408.81"/><use href="#p" x="734.29" y="1425.24"/><use href="#p" x="734.29" y="1438.93"/><use href="#p" x="734.29" y="1466.99"/><use href="#p" x="734.29" y="1470.42"/><use href="#p" x="734.29" y="1478.63"/><use href="#p" x="734.29" y="1496.43"/><use href="#p" x="734.29" y="1503.96"/><use href="#p" x="749.56" y="1423.87"/><use href="#p" x="749.56" y="1426.61"/><use href="#p" x="749.56" y="1433.45"/><use href="#p" x="749.56" y="1436.19"/><use href="#p" x="749.56" y="1444.4"/><use href="#p" x="749.56" y="1454.67"/><use href="#p" x="749.56" y="1456.73"/><use href="#p" x="749.56" y="1460.83"/><use href="#p" x="749.56" y="1470.42"/><use href="#p" x="764.83" y="1409.49"/><use href="#p" x="764.83" y="1420.45"/><use href="#p" x="764.83" y="1425.24"/><use href="#p" x="764.83" y="1427.29"/><use href="#p" x="764.83" y="1447.83"/><use href="#p" x="764.83" y="1449.88"/><use href="#p" x="764.83" y="1455.36"/><use href="#p" x="764.83" y="1466.31"/><use href="#p" x="764.83" y="1485.75"/><use href="#p" x="780.09" y="1377.6"/><use href="#p" x="780.09" y="1379.24"/><use href="#p" x="780.09" y="1385.54"/><use href="#p" x="780.09" y="1398.54"/><use href="#p" x="780.09" y="1412.23"/><use href="#p" x="780.09" y="1416.34"/><use href="#p" x="780.09" y="1436.88"/><use href="#p" x="780.09" y="1439.61"/><use href="#p" x="780.09" y="1443.04"/><use href="#p" x="780.09" y="1458.1"/><use href="#p" x="780.09" y="1466.31"/><use href="#p" x="780.09" y="1468.36"/><use href="#p" x="780.09" y="1473.15"/><use href="#p" x="780.09" y="1489.58"/><use href="#p" x="795.36" y="1349.94"/><use href="#p" x="795.36" y="1412.92"/><use href="#p" x="795.36" y="1422.5"/><use href="#p" x="795.36" y="1444.4"/><use href="#p" x="795.36" y="1447.83"/><use href="#p" x="795.36" y="1451.25"/><use href="#p" x="795.36" y="1455.36"/><use href="#p" x="795.36" y="1462.89"/><use href="#p" x="795.36" y="1486.16"/><use href="#p" x="795.36" y="1517.24"/><use href="#p" x="810.62" y="1373.21"/><use href="#p" x="810.62" y="1381.98"/><use href="#p" x="810.62" y="1383.62"/><use href="#p" x="810.62" y="1389.64"/><use href="#p" x="810.62" y="1394.43"/><use href="#p" x="810.62" y="1397.17"/><use href="#p" x="810.62" y="1432.08"/><use href="#p" x="810.62" y="1440.16"/><use href="#p" x="810.62" y="1441.8"/><use href="#p" x="810.62" y="1443.72"/><use href="#p" x="810.62" y="1447.14"/><use href="#p" x="810.62" y="1457.41"/><use href="#p" x="810.62" y="1460.15"/><use href="#p" x="810.62" y="1472.47"/><use href="#p" x="810.62" y="1477.26"/><use href="#p" x="825.88" y="1362.95"/><use href="#p" x="825.88" y="1371.16"/><use href="#p" x="825.88" y="1373.21"/><use href="#p" x="825.88" y="1382.8"/><use href="#p" x="825.88" y="1392.93"/><use href="#p" x="825.88" y="1394.57"/><use href="#p" x="825.88" y="1399.23"/><use href="#p" x="825.88" y="1401.83"/><use href="#p" x="825.88" y="1403.47"/><use href="#p" x="825.88" y="1406.07"/><use href="#p" x="825.88" y="1408.12"/><use href="#p" x="825.88" y="1433.32"/><use href="#p" x="825.88" y="1434.96"/><use href="#p" x="825.88" y="1443.04"/><use href="#p" x="825.88" y="1447.14"/><use href="#p" x="825.88" y="1455.36"/><use href="#p" x="825.88" y="1458.1"/><use href="#p" x="825.88" y="1460.83"/><use href="#p" x="825.88" y="1464.26"/><use href="#p" x="825.88" y="1481.37"/><use href="#p" x="825.88" y="1490.95"/><use href="#p" x="841.15" y="1343.1"/><use href="#p" x="841.15" y="1359.52"/><use href="#p" x="841.15" y="1367.6"/><use href="#p" x="841.15" y="1369.24"/><use href="#p" x="841.15" y="1374.58"/><use href="#p" x="841.15" y="1375.68"/><use href="#p" x="841.15" y="1376.77"/><use href="#p" x="841.15" y="1377.87"/><use href="#p" x="841.15" y="1378.96"/><use href="#p" x="841.15" y="1380.06"/><use href="#p" x="841.15" y="1381.15"/><use href="#p" x="841.15" y="1382.25"/><use href="#p" x="841.15" y="1383.35"/><use href="#p" x="841.15" y="1384.44"/><use href="#p" x="841.15" y="1385.54"/><use href="#p" x="841.15" y="1386.63"/><use href="#p" x="841.15" y="1387.73"/><use href="#p" x="841.15" y="1388.82"/><use href="#p" x="841.15" y="1389.92"/><use href="#p" x="841.15" y="1391.01"/><use href="#p" x="841.15" y="1392.11"/><use href="#p" x="841.15" y="1395.12"/><use href="#p" x="841.15" y="1411.41"/><use href="#p" x="841.15" y="1413.05"/><use href="#p" x="841.15" y="1418.39"/><use href="#p" x="841.15" y="1432.08"/><use href="#p" x="841.15" y="1440.3"/><use href="#p" x="841.15" y="1443.04"/><use href="#p" x="841.15" y="1451.25"/><use href="#p" x="841.15" y="1453.99"/><use href="#p" x="841.15" y="1463.57"/><use href="#p" x="841.15" y="1466.31"/><use href="#p" x="841.15" y="1469.05"/><use href="#p" x="841.15" y="1471.1"/><use href="#p" x="856.41" y="1354.73"/><use href="#p" x="856.41" y="1357.47"/><use href="#p" x="856.41" y="1360.21"/><use href="#p" x="856.41" y="1365"/><use href="#p" x="856.41" y="1367.74"/><use href="#p" x="856.41" y="1375.95"/><use href="#p" x="856.41" y="1377.05"/><use href="#p" x="856.41" y="1378.14"/><use href="#p" x="856.41" y="1379.24"/><use href="#p" x="856.41" y="1380.33"/><use href="#p" x="856.41" y="1381.43"/><use href="#p" x="856.41" y="1382.52"/><use href="#p" x="856.41" y="1383.62"/><use href="#p" x="856.41" y="1384.71"/><use href="#p" x="856.41" y="1385.81"/><use href="#p" x="856.41" y="1386.9"/><use href="#p" x="856.41" y="1388"/><use href="#p" x="856.41" y="1389.1"/><use href="#p" x="856.41" y="1390.19"/><use href="#p" x="856.41" y="1391.29"/><use href="#p" x="856.41" y="1392.38"/><use href="#p" x="856.41" y="1400.6"/><use href="#p" x="856.41" y="1404.7"/><use href="#p" x="856.41" y="1408.12"/><use href="#p" x="856.41" y="1414.29"/><use href="#p" x="856.41" y="1422.36"/><use href="#p" x="856.41" y="1424.01"/><use href="#p" x="856.41" y="1427.98"/><use href="#p" x="856.41" y="1441.67"/><use href="#p" x="856.41" y="1442.76"/><use href="#p" x="856.41" y="1443.86"/><use href="#p" x="856.41" y="1444.95"/><use href="#p" x="856.41" y="1446.05"/><use href="#p" x="856.41" y="1447.14"/><use href="#p" x="856.41" y="1455.36"/><use href="#p" x="856.41" y="1464.94"/><use href="#p" x="871.68" y="1344.19"/><use href="#p" x="871.68" y="1351.99"/><use href="#p" x="871.68" y="1358.7"/><use href="#p" x="871.68" y="1360.35"/><use href="#p" x="871.68" y="1366.37"/><use href="#p" x="871.68" y="1373.21"/><use href="#p" x="871.68" y="1374.31"/><use href="#p" x="871.68" y="1375.4"/><use href="#p" x="871.68" y="1376.5"/><use href="#p" x="871.68" y="1377.6"/><use href="#p" x="871.68" y="1378.69"/><use href="#p" x="871.68" y="1379.79"/><use href="#p" x="871.68" y="1380.88"/><use href="#p" x="871.68" y="1381.98"/><use href="#p" x="871.68" y="1383.07"/><use href="#p" x="871.68" y="1384.17"/><use href="#p" x="871.68" y="1385.26"/><use href="#p" x="871.68" y="1386.36"/><use href="#p" x="871.68" y="1387.45"/><use href="#p" x="871.68" y="1392.38"/><use href="#p" x="871.68" y="1393.48"/><use href="#p" x="871.68" y="1394.57"/><use href="#p" x="871.68" y="1395.67"/><use href="#p" x="871.68" y="1396.76"/><use href="#p" x="871.68" y="1397.86"/><use href="#p" x="871.68" y="1398.95"/><use href="#p" x="871.68" y="1400.05"/><use href="#p" x="871.68" y="1401.14"/><use href="#p" x="871.68" y="1402.24"/><use href="#p" x="871.68" y="1403.33"/><use href="#p" x="871.68" y="1404.43"/><use href="#p" x="871.68" y="1416.34"/><use href="#p" x="871.68" y="1418.39"/><use href="#p" x="871.68" y="1429.35"/><use href="#p" x="871.68" y="1433.45"/><use href="#p" x="871.68" y="1453.99"/><use href="#p" x="886.94" y="1351.17"/><use href="#p" x="886.94" y="1352.82"/><use href="#p" x="886.94" y="1358.15"/><use href="#p" x="886.94" y="1359.25"/><use href="#p" x="886.94" y="1360.35"/><use href="#p" x="886.94" y="1361.44"/><use href="#p" x="886.94" y="1362.54"/><use href="#p" x="886.94" y="1363.63"/><use href="#p" x="886.94" y="1364.73"/><use href="#p" x="886.94" y="1365.82"/><use href="#p" x="886.94" y="1366.92"/><use href="#p" x="886.94" y="1368.01"/><use href="#p" x="886.94" y="1369.11"/><use href="#p" x="886.94" y="1370.2"/><use href="#p" x="886.94" y="1371.3"/><use href="#p" x="886.94" y="1372.39"/><use href="#p" x="886.94" y="1373.49"/><use href="#p" x="886.94" y="1374.58"/><use href="#p" x="886.94" y="1375.68"/><use href="#p" x="886.94" y="1376.77"/><use href="#p" x="886.94" y="1377.87"/><use href="#p" x="886.94" y="1378.96"/><use href="#p" x="886.94" y="1380.06"/><use href="#p" x="886.94" y="1381.15"/><use href="#p" x="886.94" y="1382.25"/><use href="#p" x="886.94" y="1383.35"/><use href="#p" x="886.94" y="1384.44"/><use href="#p" x="886.94" y="1385.54"/><use href="#p" x="886.94" y="1392.38"/><use href="#p" x="886.94" y="1393.48"/><use href="#p" x="886.94" y="1394.57"/><use href="#p" x="886.94" y="1395.67"/><use href="#p" x="886.94" y="1396.76"/><use href="#p" x="886.94" y="1397.86"/><use href="#p" x="886.94" y="1398.95"/><use href="#p" x="886.94" y="1400.05"/><use href="#p" x="886.94" y="1401.14"/><use href="#p" x="886.94" y="1402.24"/><use href="#p" x="886.94" y="1403.33"/><use href="#p" x="886.94" y="1404.43"/><use href="#p" x="886.94" y="1412.92"/><use href="#p" x="886.94" y="1420.45"/><use href="#p" x="886.94" y="1423.87"/><use href="#p" x="886.94" y="1434.68"/><use href="#p" x="886.94" y="1436.33"/><use href="#p" x="886.94" y="1443.58"/><use href="#p" x="886.94" y="1445.23"/><use href="#p" x="886.94" y="1450.57"/><use href="#p" x="886.94" y="1455.36"/><use href="#p" x="886.94" y="1494.38"/><use href="#p" x="902.21" y="1332.83"/><use href="#p" x="902.21" y="1344.33"/><use href="#p" x="902.21" y="1345.97"/><use href="#p" x="902.21" y="1355.42"/><use href="#p" x="902.21" y="1356.51"/><use href="#p" x="902.21" y="1357.61"/><use href="#p" x="902.21" y="1358.7"/><use href="#p" x="902.21" y="1359.8"/><use href="#p" x="902.21" y="1360.89"/><use href="#p" x="902.21" y="1361.99"/><use href="#p" x="902.21" y="1363.08"/><use href="#p" x="902.21" y="1364.18"/><use href="#p" x="902.21" y="1367.74"/><use href="#p" x="902.21" y="1371.16"/><use href="#p" x="902.21" y="1374.58"/><use href="#p" x="902.21" y="1389.64"/><use href="#p" x="902.21" y="1390.74"/><use href="#p" x="902.21" y="1391.83"/><use href="#p" x="902.21" y="1392.93"/><use href="#p" x="902.21" y="1394.02"/><use href="#p" x="902.21" y="1395.12"/><use href="#p" x="902.21" y="1396.21"/><use href="#p" x="902.21" y="1397.31"/><use href="#p" x="902.21" y="1398.4"/><use href="#p" x="902.21" y="1408.81"/><use href="#p" x="902.21" y="1418.94"/><use href="#p" x="902.21" y="1420.58"/><use href="#p" x="902.21" y="1436.19"/><use href="#p" x="902.21" y="1456.04"/><use href="#p" x="902.21" y="1469.05"/><use href="#p" x="917.48" y="1345.83"/><use href="#p" x="917.48" y="1357.47"/><use href="#p" x="917.48" y="1359.52"/><use href="#p" x="917.48" y="1363.63"/><use href="#p" x="917.48" y="1371.02"/><use href="#p" x="917.48" y="1372.67"/><use href="#p" x="917.48" y="1374.58"/><use href="#p" x="917.48" y="1392.38"/><use href="#p" x="917.48" y="1394.43"/><use href="#p" x="917.48" y="1396.35"/><use href="#p" x="917.48" y="1397.99"/><use href="#p" x="917.48" y="1406.07"/><use href="#p" x="917.48" y="1409.49"/><use href="#p" x="917.48" y="1413.46"/><use href="#p" x="917.48" y="1415.11"/><use href="#p" x="917.48" y="1417.02"/><use href="#p" x="917.48" y="1429.35"/><use href="#p" x="932.74" y="1285.32"/><use href="#p" x="932.74" y="1371.02"/><use href="#p" x="932.74" y="1372.67"/><use href="#p" x="932.74" y="1373.9"/><use href="#p" x="932.74" y="1397.86"/><use href="#p" x="932.74" y="1401.28"/><use href="#p" x="932.74" y="1405.39"/><use href="#p" x="932.74" y="1408.12"/><use href="#p" x="932.74" y="1415.65"/><use href="#p" x="932.74" y="1425.24"/><use href="#p" x="932.74" y="1445.77"/><use href="#p" x="948" y="1347.89"/><use href="#p" x="948" y="1349.67"/><use href="#p" x="948" y="1373.21"/><use href="#p" x="948" y="1378.69"/><use href="#p" x="948" y="1380.74"/><use href="#p" x="948" y="1397.86"/><use href="#p" x="948" y="1410.86"/><use href="#p" x="948" y="1453.99"/><use href="#p" x="948" y="1456.73"/><use href="#p" x="963.27" y="1340.36"/><use href="#p" x="963.27" y="1355.14"/><use href="#p" x="963.27" y="1377.18"/><use href="#p" x="963.27" y="1378.83"/><use href="#p" x="963.27" y="1405.39"/><use href="#p" x="963.27" y="1416.34"/><use href="#p" x="963.27" y="1420.45"/><use href="#p" x="963.27" y="1425.24"/><use href="#p" x="963.27" y="1449.88"/><use href="#p" x="978.54" y="1357.47"/><use href="#p" x="978.54" y="1363.63"/><use href="#p" x="978.54" y="1384.85"/><use href="#p" x="978.54" y="1427.98"/><use href="#p" x="978.54" y="1438.93"/><use href="#p" x="978.54" y="1456.73"/><use href="#p" x="993.8" y="1349.94"/><use href="#p" x="993.8" y="1371.16"/><use href="#p" x="993.8" y="1416.34"/><use href="#p" x="993.8" y="1451.93"/><use href="#p" x="993.8" y="1455.36"/><use href="#p" x="993.8" y="1458.1"/><use href="#p" x="1009.07" y="1377.32"/><use href="#p" x="1009.07" y="1434.82"/><use href="#p" x="1009.07" y="1453.3"/><use href="#p" x="1024.33" y="1376.64"/><use href="#p" x="1024.33" y="1407.44"/><use href="#p" x="1024.33" y="1427.29"/><use href="#p" x="1024.33" y="1435.51"/><use href="#p" x="1039.6" y="1292.85"/><use href="#p" x="1039.6" y="1309.55"/><use href="#p" x="1039.6" y="1375.95"/><use href="#p" x="1039.6" y="1391.7"/><use href="#p" x="1039.6" y="1397.17"/><use href="#p" x="1039.6" y="1416.34"/><use href="#p" x="1039.6" y="1425.24"/><use href="#p" x="1054.86" y="1358.15"/><use href="#p" x="1054.86" y="1374.58"/><use href="#p" x="1054.86" y="1392.38"/><use href="#p" x="1054.86" y="1417.43"/><use href="#p" x="1070.12" y="1320.23"/><use href="#p" x="1070.12" y="1354.32"/><use href="#p" x="1070.12" y="1385.54"/><use href="#p" x="1070.12" y="1395.12"/><use href="#p" x="1070.12" y="1399.23"/><use href="#p" x="1070.12" y="1425.24"/><use href="#p" x="1085.39" y="1309.83"/><use href="#p" x="1085.39" y="1321.88"/><use href="#p" x="1085.39" y="1358.02"/><use href="#p" x="1085.39" y="1359.66"/><use href="#p" x="1085.39" y="1373.21"/><use href="#p" x="1085.39" y="1395.12"/><use href="#p" x="1085.39" y="1397.17"/><use href="#p" x="1085.39" y="1436.19"/><use href="#p" x="1100.65" y="1267.11"/><use href="#p" x="1100.65" y="1354.73"/><use href="#p" x="1100.65" y="1360.89"/><use href="#p" x="1100.65" y="1362.54"/><use href="#p" x="1100.65" y="1388.27"/><use href="#p" x="1100.65" y="1390.33"/><use href="#p" x="1100.65" y="1414.29"/><use href="#p" x="1100.65" y="1429.35"/><use href="#p" x="1100.65" y="1443.04"/>
<use href="#t" x="673.24" y="1463.98"/><use href="#t" x="688.5" y="1467.68"/><use href="#t" x="703.76" y="1482.46"/><use href="#t" x="719.03" y="1436.88"/><use href="#t" x="734.29" y="1453.3"/><use href="#t" x="749.56" y="1446.18"/><use href="#t" x="764.83" y="1438.65"/><use href="#t" x="780.09" y="1428.66"/><use href="#t" x="795.36" y="1435.92"/><use href="#t" x="810.62" y="1417.71"/><use href="#t" x="825.88" y="1419.08"/><use href="#t" x="841.15" y="1399.23"/><use href="#t" x="856.41" y="1393.34"/><use href="#t" x="871.68" y="1385.12"/><use href="#t" x="886.94" y="1388"/><use href="#t" x="902.21" y="1382.52"/><use href="#t" x="917.48" y="1381.84"/><use href="#t" x="932.74" y="1384.58"/><use href="#t" x="948" y="1388.68"/><use href="#t" x="963.27" y="1390.05"/><use href="#t" x="978.54" y="1392.11"/><use href="#t" x="993.8" y="1408.54"/><use href="#t" x="1039.6" y="1363.36"/><use href="#t" x="1054.86" y="1381.84"/><use href="#t" x="1070.12" y="1377.73"/><use href="#t" x="1085.39" y="1366.78"/><use href="#t" x="1100.65" y="1373.62"/>
<path d="M673.24 1456.4L1100.65 1356.5" stroke="#f00" stroke-width="2.7" fill="none" stroke-linecap="square"/>
<path d="M654.4 1348.08L1107 1246.2M654.4 1393.8L1107 1291.92M654.4 1439.52L1107 1337.64M654.4 1485.24L1107 1383.36M654.4 1530.96L1107 1429.08" stroke="#00f" stroke-width="2.7" fill="none" stroke-dasharray="10 4.3"/>
</g>
<rect x="664.2" y="1207.6" width="442.8" height="423.2" fill="none" stroke="#000" stroke-width="1.45"/>
<path d="M688.5 1630.8v6.6M749.56 1630.8v6.6M810.62 1630.8v6.6M871.68 1630.8v6.6M932.74 1630.8v6.6M993.8 1630.8v6.6M1054.86 1630.8v6.6M664.2 1577.9h-6.6M664.2 1463.6h-6.6M664.2 1349.3h-6.6M664.2 1235h-6.6" stroke="#000" stroke-width="1.45" fill="none"/>
<text x="688.5" y="1667.9" text-anchor="middle">18</text>
<text x="749.56" y="1667.9" text-anchor="middle">20</text>
<text x="810.62" y="1667.9" text-anchor="middle">22</text>
<text x="871.68" y="1667.9" text-anchor="middle">24</text>
<text x="932.74" y="1667.9" text-anchor="middle">26</text>
<text x="993.8" y="1667.9" text-anchor="middle">28</text>
<text x="1054.86" y="1667.9" text-anchor="middle">30</text>
<text x="651.9" y="1590.3" text-anchor="end">1</text>
<text x="651.9" y="1476" text-anchor="end">2</text>
<text x="651.9" y="1361.7" text-anchor="end">3</text>
<text x="651.9" y="1247.4" text-anchor="end">4</text>
<text x="885.6" y="1196.6" text-anchor="middle">Cold region</text>
<text x="885.6" y="1706.8" text-anchor="middle">temperature (℃)</text>
<text transform="translate(616.7 1419.2) rotate(-90)" text-anchor="middle">precipitation ln(mm)</text>
</g>
<g>
<g clip-path="url(#c8)">
<use href="#p" x="1265.68" y="1325.02"/><use href="#p" x="1265.68" y="1375.95"/><use href="#p" x="1265.68" y="1403.47"/><use href="#p" x="1265.68" y="1415.65"/><use href="#p" x="1265.68" y="1425.92"/><use href="#p" x="1265.68" y="1452.62"/><use href="#p" x="1265.68" y="1497.11"/><use href="#p" x="1281.5" y="1379.79"/><use href="#p" x="1281.5" y="1389.64"/><use href="#p" x="1281.5" y="1416.34"/><use href="#p" x="1297.32" y="1369.11"/><use href="#p" x="1297.32" y="1370.2"/><use href="#p" x="1297.32" y="1371.3"/><use href="#p" x="1297.32" y="1372.39"/><use href="#p" x="1297.32" y="1378.69"/><use href="#p" x="1297.32" y="1385.54"/><use href="#p" x="1297.32" y="1400.6"/><use href="#p" x="1297.32" y="1468.77"/><use href="#p" x="1297.32" y="1494.38"/><use href="#p" x="1313.13" y="1370.48"/><use href="#p" x="1313.13" y="1373.9"/><use href="#p" x="1313.13" y="1398.54"/><use href="#p" x="1313.13" y="1408.12"/><use href="#p" x="1328.94" y="1347.89"/><use href="#p" x="1328.94" y="1350.62"/><use href="#p" x="1328.94" y="1355.42"/><use href="#p" x="1328.94" y="1358.84"/><use href="#p" x="1328.94" y="1362.26"/><use href="#p" x="1328.94" y="1366.37"/><use href="#p" x="1328.94" y="1386.22"/><use href="#p" x="1328.94" y="1393.61"/><use href="#p" x="1328.94" y="1395.26"/><use href="#p" x="1328.94" y="1423.87"/><use href="#p" x="1344.76" y="1339.54"/><use href="#p" x="1344.76" y="1341.18"/><use href="#p" x="1344.76" y="1348.57"/><use href="#p" x="1344.76" y="1351.31"/><use href="#p" x="1344.76" y="1358.15"/><use href="#p" x="1344.76" y="1362.26"/><use href="#p" x="1344.76" y="1364.32"/><use href="#p" x="1344.76" y="1365.41"/><use href="#p" x="1344.76" y="1366.51"/><use href="#p" x="1344.76" y="1367.6"/><use href="#p" x="1344.76" y="1368.7"/><use href="#p" x="1344.76" y="1369.79"/><use href="#p" x="1344.76" y="1382.66"/><use href="#p" x="1344.76" y="1384.3"/><use href="#p" x="1344.76" y="1408.81"/><use href="#p" x="1344.76" y="1485.75"/><use href="#p" x="1344.76" y="1493.01"/><use href="#p" x="1360.58" y="1311.61"/><use href="#p" x="1360.58" y="1350.49"/><use href="#p" x="1360.58" y="1352.13"/><use href="#p" x="1360.58" y="1357.47"/><use href="#p" x="1360.58" y="1360.89"/><use href="#p" x="1360.58" y="1363.63"/><use href="#p" x="1360.58" y="1366.37"/><use href="#p" x="1360.58" y="1370.48"/><use href="#p" x="1360.58" y="1381.43"/><use href="#p" x="1360.58" y="1385.54"/><use href="#p" x="1360.58" y="1389.64"/><use href="#p" x="1360.58" y="1393.75"/><use href="#p" x="1360.58" y="1397.17"/><use href="#p" x="1360.58" y="1400.6"/><use href="#p" x="1360.58" y="1408.81"/><use href="#p" x="1360.58" y="1416.34"/><use href="#p" x="1360.58" y="1417.57"/><use href="#p" x="1360.58" y="1419.21"/><use href="#p" x="1360.58" y="1425.24"/><use href="#p" x="1360.58" y="1432.08"/><use href="#p" x="1376.39" y="1347.07"/><use href="#p" x="1376.39" y="1348.71"/><use href="#p" x="1376.39" y="1355.42"/><use href="#p" x="1376.39" y="1356.51"/><use href="#p" x="1376.39" y="1357.61"/><use href="#p" x="1376.39" y="1358.7"/><use href="#p" x="1376.39" y="1359.8"/><use href="#p" x="1376.39" y="1360.89"/><use href="#p" x="1376.39" y="1361.99"/><use href="#p" x="1376.39" y="1363.08"/><use href="#p" x="1376.39" y="1364.18"/><use href="#p" x="1376.39" y="1365.27"/><use href="#p" x="1376.39" y="1366.37"/><use href="#p" x="1376.39" y="1367.46"/><use href="#p" x="1376.39" y="1368.56"/><use href="#p" x="1376.39" y="1369.65"/><use href="#p" x="1376.39" y="1370.75"/><use href="#p" x="1376.39" y="1371.85"/><use href="#p" x="1376.39" y="1372.94"/><use href="#p" x="1376.39" y="1374.04"/><use href="#p" x="1376.39" y="1375.13"/><use href="#p" x="1376.39" y="1376.23"/><use href="#p" x="1376.39" y="1377.32"/><use href="#p" x="1376.39" y="1378.42"/><use href="#p" x="1376.39" y="1379.51"/><use href="#p" x="1376.39" y="1380.61"/><use href="#p" x="1376.39" y="1381.7"/><use href="#p" x="1376.39" y="1382.8"/><use href="#p" x="1376.39" y="1383.89"/><use href="#p" x="1376.39" y="1384.99"/><use href="#p" x="1376.39" y="1386.08"/><use href="#p" x="1376.39" y="1389.64"/><use href="#p" x="1376.39" y="1391.7"/><use href="#p" x="1376.39" y="1401.96"/><use href="#p" x="1376.39" y="1421.13"/><use href="#p" x="1376.39" y="1424.55"/><use href="#p" x="1392.2" y="1327.21"/><use href="#p" x="1392.2" y="1328.86"/><use href="#p" x="1392.2" y="1335.57"/><use href="#p" x="1392.2" y="1336.66"/><use href="#p" x="1392.2" y="1337.76"/><use href="#p" x="1392.2" y="1338.85"/><use href="#p" x="1392.2" y="1339.95"/><use href="#p" x="1392.2" y="1341.04"/><use href="#p" x="1392.2" y="1342.14"/><use href="#p" x="1392.2" y="1345.83"/><use href="#p" x="1392.2" y="1351.99"/><use href="#p" x="1392.2" y="1354.73"/><use href="#p" x="1392.2" y="1356.79"/><use href="#p" x="1392.2" y="1357.88"/><use href="#p" x="1392.2" y="1358.98"/><use href="#p" x="1392.2" y="1360.07"/><use href="#p" x="1392.2" y="1361.17"/><use href="#p" x="1392.2" y="1362.26"/><use href="#p" x="1392.2" y="1363.36"/><use href="#p" x="1392.2" y="1364.45"/><use href="#p" x="1392.2" y="1365.55"/><use href="#p" x="1392.2" y="1366.64"/><use href="#p" x="1392.2" y="1367.74"/><use href="#p" x="1392.2" y="1368.83"/><use href="#p" x="1392.2" y="1369.93"/><use href="#p" x="1392.2" y="1371.02"/><use href="#p" x="1392.2" y="1372.12"/><use href="#p" x="1392.2" y="1373.21"/><use href="#p" x="1392.2" y="1374.31"/><use href="#p" x="1392.2" y="1375.4"/><use href="#p" x="1392.2" y="1376.5"/><use href="#p" x="1392.2" y="1377.6"/><use href="#p" x="1392.2" y="1378.69"/><use href="#p" x="1392.2" y="1379.79"/><use href="#p" x="1392.2" y="1380.88"/><use href="#p" x="1392.2" y="1385.54"/><use href="#p" x="1392.2" y="1390.33"/><use href="#p" x="1392.2" y="1396.49"/><use href="#p" x="1392.2" y="1401.28"/><use href="#p" x="1392.2" y="1406.07"/><use href="#p" x="1392.2" y="1410.45"/><use href="#p" x="1392.2" y="1425.24"/><use href="#p" x="1392.2" y="1427.84"/><use href="#p" x="1392.2" y="1429.48"/><use href="#p" x="1408.02" y="1322.56"/><use href="#p" x="1408.02" y="1323.79"/><use href="#p" x="1408.02" y="1325.43"/><use href="#p" x="1408.02" y="1332.14"/><use href="#p" x="1408.02" y="1336.25"/><use href="#p" x="1408.02" y="1341.73"/><use href="#p" x="1408.02" y="1347.2"/><use href="#p" x="1408.02" y="1348.3"/><use href="#p" x="1408.02" y="1349.39"/><use href="#p" x="1408.02" y="1350.49"/><use href="#p" x="1408.02" y="1351.58"/><use href="#p" x="1408.02" y="1352.68"/><use href="#p" x="1408.02" y="1353.77"/><use href="#p" x="1408.02" y="1354.87"/><use href="#p" x="1408.02" y="1355.96"/><use href="#p" x="1408.02" y="1357.06"/><use href="#p" x="1408.02" y="1358.15"/><use href="#p" x="1408.02" y="1359.25"/><use href="#p" x="1408.02" y="1360.35"/><use href="#p" x="1408.02" y="1361.44"/><use href="#p" x="1408.02" y="1362.54"/><use href="#p" x="1408.02" y="1363.63"/><use href="#p" x="1408.02" y="1364.73"/><use href="#p" x="1408.02" y="1365.82"/><use href="#p" x="1408.02" y="1366.92"/><use href="#p" x="1408.02" y="1368.01"/><use href="#p" x="1408.02" y="1369.11"/><use href="#p" x="1408.02" y="1370.2"/><use href="#p" x="1408.02" y="1371.3"/><use href="#p" x="1408.02" y="1372.39"/><use href="#p" x="1408.02" y="1373.49"/><use href="#p" x="1408.02" y="1374.58"/><use href="#p" x="1408.02" y="1375.68"/><use href="#p" x="1408.02" y="1376.77"/><use href="#p" x="1408.02" y="1377.87"/><use href="#p" x="1408.02" y="1378.96"/><use href="#p" x="1408.02" y="1380.06"/><use href="#p" x="1408.02" y="1381.15"/><use href="#p" x="1408.02" y="1382.25"/><use href="#p" x="1408.02" y="1383.35"/><use href="#p" x="1408.02" y="1384.44"/><use href="#p" x="1408.02" y="1385.54"/><use href="#p" x="1408.02" y="1386.63"/><use href="#p" x="1408.02" y="1387.73"/><use href="#p" x="1408.02" y="1388.82"/><use href="#p" x="1408.02" y="1396.49"/><use href="#p" x="1408.02" y="1406.76"/><use href="#p" x="1408.02" y="1427.7"/><use href="#p" x="1423.84" y="1334.88"/><use href="#p" x="1423.84" y="1344.46"/><use href="#p" x="1423.84" y="1347.2"/><use href="#p" x="1423.84" y="1349.94"/><use href="#p" x="1423.84" y="1351.04"/><use href="#p" x="1423.84" y="1352.13"/><use href="#p" x="1423.84" y="1353.23"/><use href="#p" x="1423.84" y="1354.32"/><use href="#p" x="1423.84" y="1355.42"/><use href="#p" x="1423.84" y="1356.51"/><use href="#p" x="1423.84" y="1357.61"/><use href="#p" x="1423.84" y="1358.7"/><use href="#p" x="1423.84" y="1359.8"/><use href="#p" x="1423.84" y="1360.89"/><use href="#p" x="1423.84" y="1361.99"/><use href="#p" x="1423.84" y="1363.08"/><use href="#p" x="1423.84" y="1364.18"/><use href="#p" x="1423.84" y="1365.27"/><use href="#p" x="1423.84" y="1366.37"/><use href="#p" x="1423.84" y="1367.46"/><use href="#p" x="1423.84" y="1368.56"/><use href="#p" x="1423.84" y="1369.65"/><use href="#p" x="1423.84" y="1370.75"/><use href="#p" x="1423.84" y="1371.85"/><use href="#p" x="1423.84" y="1372.94"/><use href="#p" x="1423.84" y="1374.04"/><use href="#p" x="1423.84" y="1375.13"/><use href="#p" x="1423.84" y="1376.23"/><use href="#p" x="1423.84" y="1377.32"/><use href="#p" x="1423.84" y="1378.42"/><use href="#p" x="1423.84" y="1379.51"/><use href="#p" x="1423.84" y="1380.61"/><use href="#p" x="1423.84" y="1381.7"/><use href="#p" x="1423.84" y="1382.8"/><use href="#p" x="1423.84" y="1383.89"/><use href="#p" x="1423.84" y="1384.99"/><use href="#p" x="1423.84" y="1386.08"/><use href="#p" x="1423.84" y="1387.18"/><use href="#p" x="1423.84" y="1388.27"/><use href="#p" x="1423.84" y="1390.33"/><use href="#p" x="1423.84" y="1395.67"/><use href="#p" x="1423.84" y="1397.31"/><use href="#p" x="1423.84" y="1401.28"/><use href="#p" x="1423.84" y="1407.44"/><use href="#p" x="1423.84" y="1434.14"/><use href="#p" x="1423.84" y="1466.04"/><use href="#p" x="1439.65" y="1317.08"/><use href="#p" x="1439.65" y="1323.93"/><use href="#p" x="1439.65" y="1325.3"/><use href="#p" x="1439.65" y="1331.32"/><use href="#p" x="1439.65" y="1332.96"/><use href="#p" x="1439.65" y="1338.85"/><use href="#p" x="1439.65" y="1340.49"/><use href="#p" x="1439.65" y="1345.83"/><use href="#p" x="1439.65" y="1346.93"/><use href="#p" x="1439.65" y="1348.02"/><use href="#p" x="1439.65" y="1349.12"/><use href="#p" x="1439.65" y="1350.21"/><use href="#p" x="1439.65" y="1351.31"/><use href="#p" x="1439.65" y="1352.4"/><use href="#p" x="1439.65" y="1353.5"/><use href="#p" x="1439.65" y="1354.6"/><use href="#p" x="1439.65" y="1355.69"/><use href="#p" x="1439.65" y="1356.79"/><use href="#p" x="1439.65" y="1357.88"/><use href="#p" x="1439.65" y="1358.98"/><use href="#p" x="1439.65" y="1360.07"/><use href="#p" x="1439.65" y="1361.17"/><use href="#p" x="1439.65" y="1362.26"/><use href="#p" x="1439.65" y="1363.36"/><use href="#p" x="1439.65" y="1364.45"/><use href="#p" x="1439.65" y="1365.55"/><use href="#p" x="1439.65" y="1366.64"/><use href="#p" x="1439.65" y="1367.74"/><use href="#p" x="1439.65" y="1368.83"/><use href="#p" x="1439.65" y="1369.93"/><use href="#p" x="1439.65" y="1371.02"/><use href="#p" x="1439.65" y="1372.12"/><use href="#p" x="1439.65" y="1373.21"/><use href="#p" x="1439.65" y="1374.31"/><use href="#p" x="1439.65" y="1375.4"/><use href="#p" x="1439.65" y="1376.5"/><use href="#p" x="1439.65" y="1377.6"/><use href="#p" x="1439.65" y="1378.69"/><use href="#p" x="1439.65" y="1379.79"/><use href="#p" x="1439.65" y="1380.88"/><use href="#p" x="1439.65" y="1381.98"/><use href="#p" x="1439.65" y="1383.07"/><use href="#p" x="1439.65" y="1384.17"/><use href="#p" x="1439.65" y="1385.26"/><use href="#p" x="1439.65" y="1386.36"/><use href="#p" x="1439.65" y="1387.45"/><use href="#p" x="1439.65" y="1388.55"/><use href="#p" x="1439.65" y="1389.64"/><use href="#p" x="1439.65" y="1392.93"/><use href="#p" x="1439.65" y="1394.57"/><use href="#p" x="1439.65" y="1398.54"/><use href="#p" x="1455.46" y="1309.83"/><use href="#p" x="1455.46" y="1316.26"/><use href="#p" x="1455.46" y="1317.9"/><use href="#p" x="1455.46" y="1319.82"/><use href="#p" x="1455.46" y="1326.67"/><use href="#p" x="1455.46" y="1332.14"/><use href="#p" x="1455.46" y="1337.62"/><use href="#p" x="1455.46" y="1340.36"/><use href="#p" x="1455.46" y="1345.83"/><use href="#p" x="1455.46" y="1346.93"/><use href="#p" x="1455.46" y="1348.02"/><use href="#p" x="1455.46" y="1349.12"/><use href="#p" x="1455.46" y="1350.21"/><use href="#p" x="1455.46" y="1351.31"/><use href="#p" x="1455.46" y="1352.4"/><use href="#p" x="1455.46" y="1353.5"/><use href="#p" x="1455.46" y="1354.6"/><use href="#p" x="1455.46" y="1355.69"/><use href="#p" x="1455.46" y="1356.79"/><use href="#p" x="1455.46" y="1357.88"/><use href="#p" x="1455.46" y="1358.98"/><use href="#p" x="1455.46" y="1360.07"/><use href="#p" x="1455.46" y="1361.17"/><use href="#p" x="1455.46" y="1362.26"/><use href="#p" x="1455.46" y="1363.36"/><use href="#p" x="1455.46" y="1364.45"/><use href="#p" x="1455.46" y="1365.55"/><use href="#p" x="1455.46" y="1366.64"/><use href="#p" x="1455.46" y="1367.74"/><use href="#p" x="1455.46" y="1368.83"/><use href="#p" x="1455.46" y="1369.93"/><use href="#p" x="1455.46" y="1371.02"/><use href="#p" x="1455.46" y="1372.12"/><use href="#p" x="1455.46" y="1373.21"/><use href="#p" x="1455.46" y="1374.31"/><use href="#p" x="1455.46" y="1375.4"/><use href="#p" x="1455.46" y="1376.5"/><use href="#p" x="1455.46" y="1377.6"/><use href="#p" x="1455.46" y="1378.69"/><use href="#p" x="1455.46" y="1379.79"/><use href="#p" x="1455.46" y="1380.88"/><use href="#p" x="1455.46" y="1381.98"/><use href="#p" x="1455.46" y="1383.07"/><use href="#p" x="1455.46" y="1384.17"/><use href="#p" x="1455.46" y="1385.26"/><use href="#p" x="1455.46" y="1386.36"/><use href="#p" x="1455.46" y="1389.64"/><use href="#p" x="1455.46" y="1392.38"/><use href="#p" x="1455.46" y="1395.12"/><use href="#p" x="1455.46" y="1397.17"/><use href="#p" x="1455.46" y="1400.6"/><use href="#p" x="1455.46" y="1420.45"/><use href="#p" x="1455.46" y="1439.61"/><use href="#p" x="1471.28" y="1307.5"/><use href="#p" x="1471.28" y="1325.98"/><use href="#p" x="1471.28" y="1327.9"/><use href="#p" x="1471.28" y="1329.54"/><use href="#p" x="1471.28" y="1341.04"/><use href="#p" x="1471.28" y="1345.83"/><use href="#p" x="1471.28" y="1348.57"/><use href="#p" x="1471.28" y="1352.68"/><use href="#p" x="1471.28" y="1353.77"/><use href="#p" x="1471.28" y="1354.87"/><use href="#p" x="1471.28" y="1355.96"/><use href="#p" x="1471.28" y="1357.06"/><use href="#p" x="1471.28" y="1358.15"/><use href="#p" x="1471.28" y="1359.25"/><use href="#p" x="1471.28" y="1360.35"/><use href="#p" x="1471.28" y="1361.44"/><use href="#p" x="1471.28" y="1362.54"/><use href="#p" x="1471.28" y="1363.63"/><use href="#p" x="1471.28" y="1364.73"/><use href="#p" x="1471.28" y="1365.82"/><use href="#p" x="1471.28" y="1366.92"/><use href="#p" x="1471.28" y="1368.01"/><use href="#p" x="1471.28" y="1369.11"/><use href="#p" x="1471.28" y="1370.2"/><use href="#p" x="1471.28" y="1371.3"/><use href="#p" x="1471.28" y="1372.39"/><use href="#p" x="1471.28" y="1373.49"/><use href="#p" x="1471.28" y="1374.58"/><use href="#p" x="1471.28" y="1375.68"/><use href="#p" x="1471.28" y="1376.77"/><use href="#p" x="1471.28" y="1377.87"/><use href="#p" x="1471.28" y="1378.96"/><use href="#p" x="1471.28" y="1380.06"/><use href="#p" x="1471.28" y="1381.15"/><use href="#p" x="1471.28" y="1382.25"/><use href="#p" x="1471.28" y="1383.35"/><use href="#p" x="1471.28" y="1388.82"/><use href="#p" x="1471.28" y="1390.46"/><use href="#p" x="1471.28" y="1396.49"/><use href="#p" x="1471.28" y="1401.28"/><use href="#p" x="1487.1" y="1339.67"/><use href="#p" x="1487.1" y="1347.89"/><use href="#p" x="1487.1" y="1350.62"/><use href="#p" x="1487.1" y="1354.05"/><use href="#p" x="1487.1" y="1357.47"/><use href="#p" x="1487.1" y="1359.52"/><use href="#p" x="1487.1" y="1360.62"/><use href="#p" x="1487.1" y="1361.71"/><use href="#p" x="1487.1" y="1362.81"/><use href="#p" x="1487.1" y="1363.9"/><use href="#p" x="1487.1" y="1365"/><use href="#p" x="1487.1" y="1380.06"/><use href="#p" x="1487.1" y="1381.15"/><use href="#p" x="1487.1" y="1382.25"/><use href="#p" x="1487.1" y="1383.35"/><use href="#p" x="1487.1" y="1384.44"/><use href="#p" x="1487.1" y="1385.54"/><use href="#p" x="1487.1" y="1386.63"/><use href="#p" x="1487.1" y="1387.73"/><use href="#p" x="1487.1" y="1388.82"/><use href="#p" x="1487.1" y="1400.6"/><use href="#p" x="1487.1" y="1404.7"/><use href="#p" x="1487.1" y="1414.29"/><use href="#p" x="1502.91" y="1320.37"/><use href="#p" x="1502.91" y="1322.01"/><use href="#p" x="1502.91" y="1354.73"/><use href="#p" x="1502.91" y="1358.15"/><use href="#p" x="1502.91" y="1362.12"/><use href="#p" x="1502.91" y="1363.77"/><use href="#p" x="1502.91" y="1378.01"/><use href="#p" x="1502.91" y="1382.11"/><use href="#p" x="1502.91" y="1401.28"/><use href="#p" x="1502.91" y="1408.81"/><use href="#p" x="1502.91" y="1412.23"/><use href="#p" x="1502.91" y="1484.38"/><use href="#p" x="1518.72" y="1341.04"/><use href="#p" x="1518.72" y="1355.42"/><use href="#p" x="1518.72" y="1359.52"/><use href="#p" x="1518.72" y="1362.95"/><use href="#p" x="1518.72" y="1374.58"/><use href="#p" x="1518.72" y="1378.01"/><use href="#p" x="1518.72" y="1384.85"/><use href="#p" x="1534.54" y="1373.9"/><use href="#p" x="1534.54" y="1380.74"/><use href="#p" x="1534.54" y="1396.49"/><use href="#p" x="1534.54" y="1421.82"/><use href="#p" x="1534.54" y="1423.87"/><use href="#p" x="1550.36" y="1342"/><use href="#p" x="1550.36" y="1371.16"/><use href="#p" x="1550.36" y="1393.75"/><use href="#p" x="1550.36" y="1406.07"/><use href="#p" x="1550.36" y="1434.82"/><use href="#p" x="1566.17" y="1305.86"/><use href="#p" x="1566.17" y="1328.04"/><use href="#p" x="1566.17" y="1336.93"/><use href="#p" x="1566.17" y="1365"/><use href="#p" x="1566.17" y="1397.86"/><use href="#p" x="1581.99" y="1394.43"/><use href="#p" x="1581.99" y="1395.8"/><use href="#p" x="1629.43" y="1373.9"/><use href="#p" x="1629.43" y="1399.64"/><use href="#p" x="1645.24" y="1352.95"/><use href="#p" x="1661.06" y="1319.82"/><use href="#p" x="1661.06" y="1354.73"/><use href="#p" x="1661.06" y="1365.68"/><use href="#p" x="1661.06" y="1394.43"/><use href="#p" x="1676.88" y="1312.29"/><use href="#p" x="1676.88" y="1314.07"/><use href="#p" x="1676.88" y="1370.48"/><use href="#p" x="1692.69" y="1322.56"/><use href="#p" x="1692.69" y="1329.4"/><use href="#p" x="1692.69" y="1355.42"/><use href="#p" x="1692.69" y="1373.9"/>
<use href="#t" x="1265.68" y="1402.38"/><use href="#t" x="1297.32" y="1392.79"/><use href="#t" x="1313.13" y="1385.54"/><use href="#t" x="1328.94" y="1374.99"/><use href="#t" x="1344.76" y="1374.31"/><use href="#t" x="1360.58" y="1374.86"/><use href="#t" x="1376.39" y="1372.53"/><use href="#t" x="1392.2" y="1368.15"/><use href="#t" x="1408.02" y="1365.68"/><use href="#t" x="1423.84" y="1368.15"/><use href="#t" x="1439.65" y="1365"/><use href="#t" x="1455.46" y="1365.68"/><use href="#t" x="1471.28" y="1364.32"/><use href="#t" x="1487.1" y="1370.89"/><use href="#t" x="1502.91" y="1368.83"/><use href="#t" x="1518.72" y="1366.37"/><use href="#t" x="1534.54" y="1397.17"/><use href="#t" x="1550.36" y="1385.26"/><use href="#t" x="1566.17" y="1346.52"/><use href="#t" x="1692.69" y="1345.15"/>
<path d="M1265.68 1387.02L1692.69 1351.7" stroke="#f00" stroke-width="2.7" fill="none" stroke-linecap="square"/>
<path d="M1255.5 1332.1L1699.1 1236.14M1255.5 1377.82L1699.1 1281.86M1255.5 1423.54L1699.1 1327.58M1255.5 1469.26L1699.1 1373.3M1255.5 1514.98L1699.1 1419.02" stroke="#00f" stroke-width="2.7" fill="none" stroke-dasharray="10 4.3"/>
</g>
<rect x="1256.3" y="1207.6" width="442.8" height="423.2" fill="none" stroke="#000" stroke-width="1.45"/>
<path d="M1281.5 1630.8v6.6M1344.76 1630.8v6.6M1408.02 1630.8v6.6M1471.28 1630.8v6.6M1534.54 1630.8v6.6M1597.8 1630.8v6.6M1661.06 1630.8v6.6M1256.3 1577.9h-6.6M1256.3 1463.6h-6.6M1256.3 1349.3h-6.6M1256.3 1235h-6.6" stroke="#000" stroke-width="1.45" fill="none"/>
<text x="1281.5" y="1667.9" text-anchor="middle">20</text>
<text x="1344.76" y="1667.9" text-anchor="middle">22</text>
<text x="1408.02" y="1667.9" text-anchor="middle">24</text>
<text x="1471.28" y="1667.9" text-anchor="middle">26</text>
<text x="1534.54" y="1667.9" text-anchor="middle">28</text>
<text x="1597.8" y="1667.9" text-anchor="middle">30</text>
<text x="1661.06" y="1667.9" text-anchor="middle">32</text>
<text x="1244" y="1590.3" text-anchor="end">1</text>
<text x="1244" y="1476" text-anchor="end">2</text>
<text x="1244" y="1361.7" text-anchor="end">3</text>
<text x="1244" y="1247.4" text-anchor="end">4</text>
<text x="1477.7" y="1196.6" text-anchor="middle">Hot summer and cold winter region</text>
<text x="1477.7" y="1706.8" text-anchor="middle">temperature (℃)</text>
<text transform="translate(1208.8 1419.2) rotate(-90)" text-anchor="middle">precipitation ln(mm)</text>
</g>
<g>
<g clip-path="url(#c9)">
<use href="#p" x="95.42" y="1959.22"/><use href="#p" x="95.42" y="2001.25"/><use href="#p" x="95.42" y="2005.36"/><use href="#p" x="95.42" y="2025.21"/><use href="#p" x="95.42" y="2039.58"/><use href="#p" x="135.7" y="1957.03"/><use href="#p" x="135.7" y="1967.71"/><use href="#p" x="135.7" y="2004.95"/><use href="#p" x="135.7" y="2043.28"/><use href="#p" x="175.97" y="1940.6"/><use href="#p" x="175.97" y="1976.61"/><use href="#p" x="175.97" y="1978.93"/><use href="#p" x="175.97" y="2001.25"/><use href="#p" x="175.97" y="2006.04"/><use href="#p" x="175.97" y="2009.46"/><use href="#p" x="175.97" y="2020.14"/><use href="#p" x="216.25" y="1990.16"/><use href="#p" x="216.25" y="1991.8"/><use href="#p" x="216.25" y="1998.51"/><use href="#p" x="216.25" y="2001.11"/><use href="#p" x="216.25" y="2002.76"/><use href="#p" x="216.25" y="2012.2"/><use href="#p" x="216.25" y="2017.95"/><use href="#p" x="216.25" y="2044.1"/><use href="#p" x="256.52" y="1967.71"/><use href="#p" x="256.52" y="1973.87"/><use href="#p" x="256.52" y="1983.59"/><use href="#p" x="256.52" y="1985.23"/><use href="#p" x="256.52" y="2013.57"/><use href="#p" x="256.52" y="2019.73"/><use href="#p" x="256.52" y="2023.84"/><use href="#p" x="256.52" y="2025.89"/><use href="#p" x="256.52" y="2040.54"/><use href="#p" x="296.8" y="1931.43"/><use href="#p" x="296.8" y="1943.75"/><use href="#p" x="296.8" y="1958.81"/><use href="#p" x="296.8" y="1966.34"/><use href="#p" x="296.8" y="1973.73"/><use href="#p" x="296.8" y="1975.38"/><use href="#p" x="296.8" y="1995.77"/><use href="#p" x="296.8" y="2004.67"/><use href="#p" x="296.8" y="2007.96"/><use href="#p" x="296.8" y="2009.6"/><use href="#p" x="296.8" y="2017.68"/><use href="#p" x="337.07" y="1940.6"/><use href="#p" x="337.07" y="1947.17"/><use href="#p" x="337.07" y="1959.49"/><use href="#p" x="337.07" y="1963.6"/><use href="#p" x="337.07" y="1977.98"/><use href="#p" x="337.07" y="1986.19"/><use href="#p" x="337.07" y="2001.93"/><use href="#p" x="337.07" y="2006.04"/><use href="#p" x="337.07" y="2008.64"/><use href="#p" x="337.07" y="2010.29"/><use href="#p" x="337.07" y="2013.57"/><use href="#p" x="337.07" y="2019.05"/><use href="#p" x="337.07" y="2025.21"/><use href="#p" x="337.07" y="2077.23"/><use href="#p" x="377.35" y="1942.38"/><use href="#p" x="377.35" y="1979.35"/><use href="#p" x="377.35" y="2002.62"/><use href="#p" x="377.35" y="2006.73"/><use href="#p" x="377.35" y="2017.68"/><use href="#p" x="377.35" y="2040.27"/><use href="#p" x="417.62" y="1940.6"/><use href="#p" x="417.62" y="1951.28"/><use href="#p" x="417.62" y="1995.77"/><use href="#p" x="417.62" y="2041.64"/><use href="#p" x="457.9" y="1975.92"/><use href="#p" x="457.9" y="1980.03"/><use href="#p" x="457.9" y="1986.19"/><use href="#p" x="457.9" y="2015.62"/><use href="#p" x="457.9" y="2021.1"/><use href="#p" x="457.9" y="2029.32"/><use href="#p" x="457.9" y="2032.05"/><use href="#p" x="498.17" y="1971.4"/><use href="#p" x="498.17" y="1980.71"/><use href="#p" x="498.17" y="2020.42"/><use href="#p" x="498.17" y="2031.1"/>
<use href="#t" x="95.42" y="2007.82"/><use href="#t" x="135.7" y="1990.3"/><use href="#t" x="175.97" y="1989.61"/><use href="#t" x="216.25" y="2004.67"/><use href="#t" x="256.52" y="2000.98"/><use href="#t" x="296.8" y="1979.89"/><use href="#t" x="337.07" y="1987.29"/><use href="#t" x="377.35" y="1993.58"/><use href="#t" x="417.62" y="1970.86"/><use href="#t" x="457.9" y="2002.35"/><use href="#t" x="498.17" y="1995.5"/>
<path d="M95.42 1997.99L498.17 1989.3" stroke="#f00" stroke-width="2.7" fill="none" stroke-linecap="square"/>
<path d="M65.75 1932.45L514.85 1894.54M65.75 1978.17L514.85 1940.26M65.75 2023.89L514.85 1985.98M65.75 2069.61L514.85 2031.7M65.75 2115.33L514.85 2077.42" stroke="#00f" stroke-width="2.7" fill="none" stroke-dasharray="10 4.3"/>
</g>
<rect x="72.05" y="1793.65" width="442.8" height="423.2" fill="none" stroke="#000" stroke-width="1.45"/>
<path d="M135.7 2216.85v6.6M296.8 2216.85v6.6M457.9 2216.85v6.6M72.05 2163.95h-6.6M72.05 2049.65h-6.6M72.05 1935.35h-6.6M72.05 1821.05h-6.6" stroke="#000" stroke-width="1.45" fill="none"/>
<text x="135.7" y="2253.95" text-anchor="middle">18</text>
<text x="296.8" y="2253.95" text-anchor="middle">20</text>
<text x="457.9" y="2253.95" text-anchor="middle">22</text>
<text x="59.75" y="2176.35" text-anchor="end">1</text>
<text x="59.75" y="2062.05" text-anchor="end">2</text>
<text x="59.75" y="1947.75" text-anchor="end">3</text>
<text x="59.75" y="1833.45" text-anchor="end">4</text>
<text x="293.45" y="1782.65" text-anchor="middle">Temperate region</text>
<text x="293.45" y="2292.85" text-anchor="middle">temperature (℃)</text>
<text transform="translate(24.55 2005.25) rotate(-90)" text-anchor="middle">precipitation ln(mm)</text>
</g>
<g>
<g clip-path="url(#c10)">
<use href="#p" x="701.45" y="1921.73"/><use href="#p" x="701.45" y="1927.62"/><use href="#p" x="701.45" y="1940.62"/><use href="#p" x="701.45" y="1959.79"/><use href="#p" x="701.45" y="1961.16"/><use href="#p" x="701.45" y="1965.95"/><use href="#p" x="701.45" y="1972.11"/><use href="#p" x="828.1" y="1913.93"/><use href="#p" x="828.1" y="1919.68"/><use href="#p" x="828.1" y="1926.8"/><use href="#p" x="828.1" y="1928.44"/><use href="#p" x="828.1" y="1944.05"/><use href="#p" x="828.1" y="1953.63"/><use href="#p" x="891.43" y="1898.18"/><use href="#p" x="891.43" y="1901.47"/><use href="#p" x="891.43" y="1903.11"/><use href="#p" x="891.43" y="1907.08"/><use href="#p" x="891.43" y="1910.37"/><use href="#p" x="891.43" y="1912.01"/><use href="#p" x="891.43" y="1918.58"/><use href="#p" x="891.43" y="1920.23"/><use href="#p" x="891.43" y="1937.07"/><use href="#p" x="891.43" y="1938.71"/><use href="#p" x="891.43" y="1941.17"/><use href="#p" x="891.43" y="1942.82"/><use href="#p" x="891.43" y="1948.84"/><use href="#p" x="891.43" y="1950.21"/><use href="#p" x="891.43" y="1957.05"/><use href="#p" x="954.75" y="1871.21"/><use href="#p" x="954.75" y="1895.04"/><use href="#p" x="954.75" y="1902.98"/><use href="#p" x="954.75" y="1904.07"/><use href="#p" x="954.75" y="1905.17"/><use href="#p" x="954.75" y="1906.26"/><use href="#p" x="954.75" y="1907.36"/><use href="#p" x="954.75" y="1908.45"/><use href="#p" x="954.75" y="1913.93"/><use href="#p" x="954.75" y="1915.98"/><use href="#p" x="954.75" y="1918.72"/><use href="#p" x="954.75" y="1920.77"/><use href="#p" x="954.75" y="1933.1"/><use href="#p" x="954.75" y="1934.19"/><use href="#p" x="954.75" y="1935.29"/><use href="#p" x="954.75" y="1936.38"/><use href="#p" x="954.75" y="1937.48"/><use href="#p" x="954.75" y="1938.57"/><use href="#p" x="954.75" y="1939.67"/><use href="#p" x="954.75" y="1940.76"/><use href="#p" x="954.75" y="1941.86"/><use href="#p" x="954.75" y="1942.95"/><use href="#p" x="954.75" y="1944.05"/><use href="#p" x="954.75" y="1948.02"/><use href="#p" x="954.75" y="1949.66"/><use href="#p" x="954.75" y="1952.26"/><use href="#p" x="954.75" y="1967.6"/><use href="#p" x="1018.08" y="1867.38"/><use href="#p" x="1018.08" y="1869.43"/><use href="#p" x="1018.08" y="1883.81"/><use href="#p" x="1018.08" y="1884.9"/><use href="#p" x="1018.08" y="1886"/><use href="#p" x="1018.08" y="1887.1"/><use href="#p" x="1018.08" y="1888.19"/><use href="#p" x="1018.08" y="1889.29"/><use href="#p" x="1018.08" y="1890.38"/><use href="#p" x="1018.08" y="1891.48"/><use href="#p" x="1018.08" y="1892.57"/><use href="#p" x="1018.08" y="1898.18"/><use href="#p" x="1018.08" y="1900.24"/><use href="#p" x="1018.08" y="1909.68"/><use href="#p" x="1018.08" y="1911.33"/><use href="#p" x="1018.08" y="1913.93"/><use href="#p" x="1018.08" y="1926.25"/><use href="#p" x="1018.08" y="1929.67"/><use href="#p" x="1018.08" y="1933.1"/><use href="#p" x="1018.08" y="1935.83"/><use href="#p" x="1018.08" y="1938.57"/><use href="#p" x="1018.08" y="1941.99"/><use href="#p" x="1018.08" y="1945.42"/><use href="#p" x="1018.08" y="1949.52"/><use href="#p" x="1018.08" y="1952.12"/><use href="#p" x="1018.08" y="1953.77"/><use href="#p" x="1081.4" y="1899.55"/><use href="#p" x="1081.4" y="1905.71"/><use href="#p" x="1081.4" y="1911.19"/><use href="#p" x="1081.4" y="1917.21"/><use href="#p" x="1081.4" y="1918.86"/><use href="#p" x="1081.4" y="1941.31"/><use href="#p" x="1081.4" y="1953.36"/><use href="#p" x="1081.4" y="1957.74"/>
<use href="#t" x="701.45" y="1949.52"/><use href="#t" x="828.1" y="1928.99"/><use href="#t" x="891.43" y="1921.87"/><use href="#t" x="954.75" y="1924.88"/><use href="#t" x="1018.08" y="1917.76"/><use href="#t" x="1081.4" y="1923.92"/>
<path d="M701.45 1942.32L1081.4 1916.38" stroke="#f00" stroke-width="2.7" fill="none" stroke-linecap="square"/>
<path d="M657.9 1893.96L1107 1870.43M657.9 1939.68L1107 1916.15M657.9 1985.4L1107 1961.87M657.9 2031.12L1107 2007.59M657.9 2076.84L1107 2053.31" stroke="#00f" stroke-width="2.7" fill="none" stroke-dasharray="10 4.3"/>
</g>
<rect x="664.2" y="1793.65" width="442.8" height="423.2" fill="none" stroke="#000" stroke-width="1.45"/>
<path d="M828.1 2216.85v6.6M1081.4 2216.85v6.6M664.2 2163.95h-6.6M664.2 2049.65h-6.6M664.2 1935.35h-6.6M664.2 1821.05h-6.6" stroke="#000" stroke-width="1.45" fill="none"/>
<text x="828.1" y="2253.95" text-anchor="middle">24</text>
<text x="1081.4" y="2253.95" text-anchor="middle">26</text>
<text x="651.9" y="2176.35" text-anchor="end">1</text>
<text x="651.9" y="2062.05" text-anchor="end">2</text>
<text x="651.9" y="1947.75" text-anchor="end">3</text>
<text x="651.9" y="1833.45" text-anchor="end">4</text>
<text x="885.6" y="1782.65" text-anchor="middle">Hot summer and warm winter region</text>
<text x="885.6" y="2292.85" text-anchor="middle">temperature (℃)</text>
<text transform="translate(616.7 2005.25) rotate(-90)" text-anchor="middle">precipitation ln(mm)</text>
</g>
<text x="1500.7" y="833" text-anchor="middle">(a)</text>
<text x="1500.7" y="2005" text-anchor="middle">(b)</text>
</svg></body></html>
